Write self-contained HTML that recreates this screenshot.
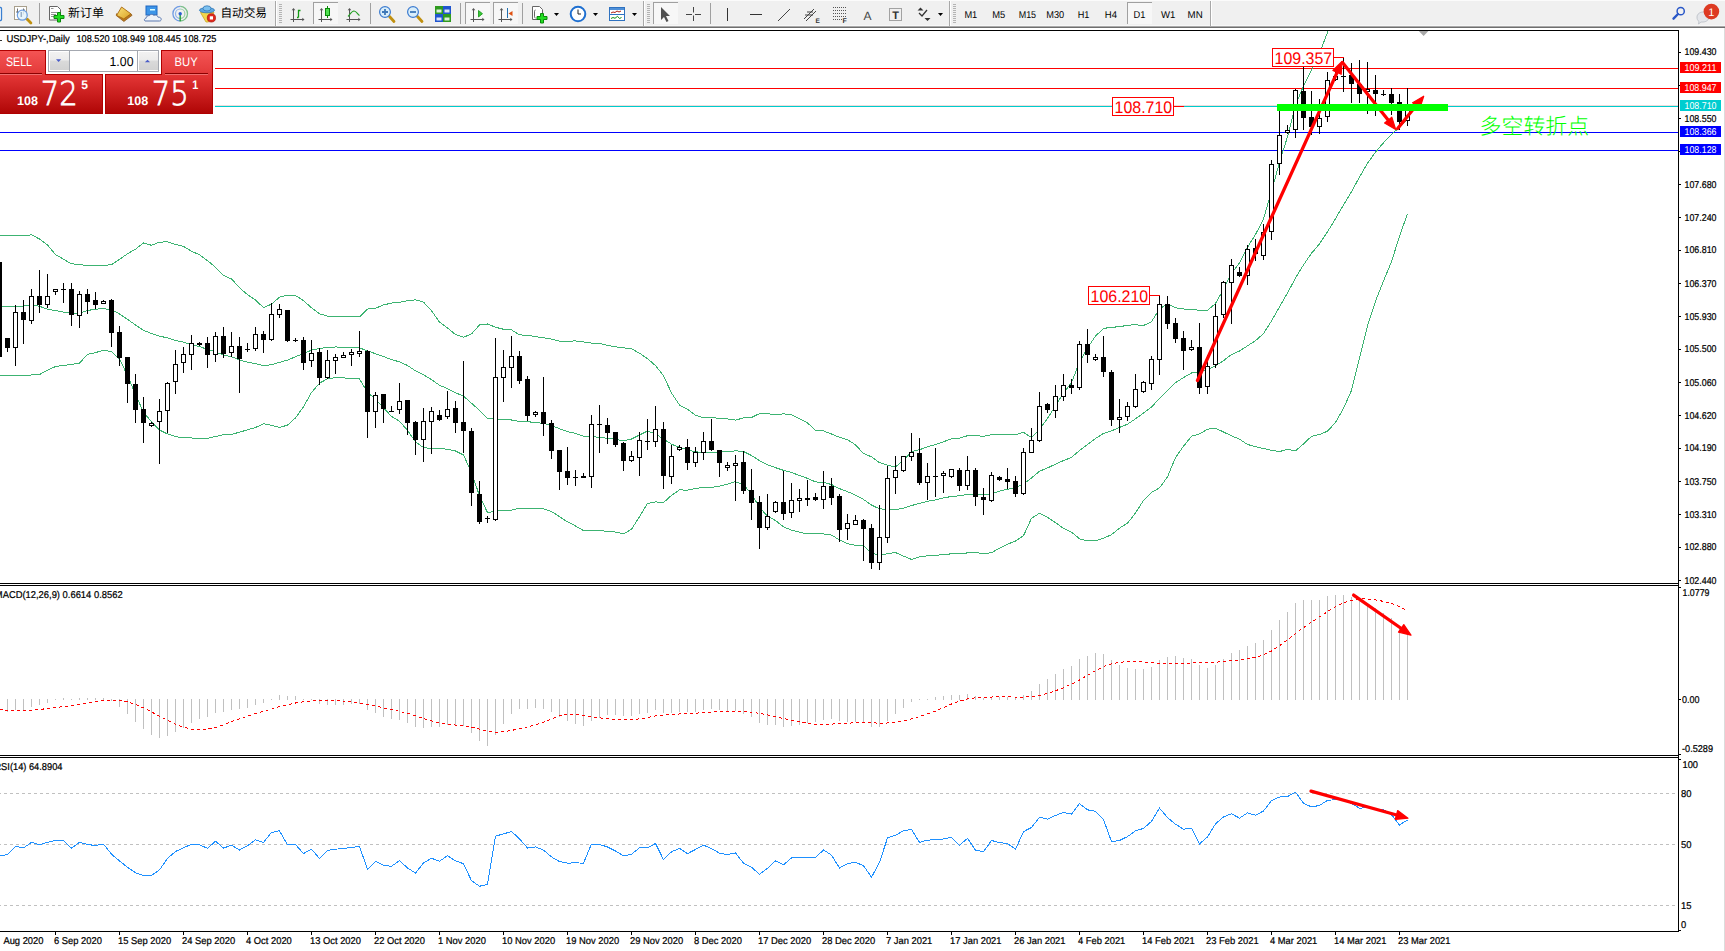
<!DOCTYPE html><html><head><meta charset="utf-8"><title>USDJPY Daily</title>
<style>html,body{margin:0;padding:0;background:#fff;overflow:hidden;}svg{display:block;} text{text-rendering:geometricPrecision;}</style></head><body>
<svg width="1725" height="951" viewBox="0 0 1725 951">
<defs>
<clipPath id="cm"><rect x="0" y="31" width="1678" height="552"/></clipPath>
<clipPath id="cd"><rect x="0" y="586" width="1678" height="169"/></clipPath>
<clipPath id="cr"><rect x="0" y="758" width="1678" height="173"/></clipPath>
<linearGradient id="gRed" x1="0" y1="0" x2="0" y2="1"><stop offset="0" stop-color="#e43636"/><stop offset="1" stop-color="#b00606"/></linearGradient>
<linearGradient id="gTab" x1="0" y1="0" x2="0" y2="1"><stop offset="0" stop-color="#f45454"/><stop offset="1" stop-color="#e23838"/></linearGradient>
<linearGradient id="gBtn" x1="0" y1="0" x2="0" y2="1"><stop offset="0" stop-color="#f2f2f2"/><stop offset="0.45" stop-color="#ebebeb"/><stop offset="0.5" stop-color="#dadada"/><stop offset="1" stop-color="#d2d2d2"/></linearGradient>
</defs>
<rect x="0" y="0" width="1725" height="951" fill="#ffffff"/>
<g id="toolbar">
<rect x="0" y="0" width="1725" height="26" fill="#f0f0f0"/>
<rect x="0" y="25" width="1725" height="1" fill="#f7f7f7"/>
<rect x="0" y="26" width="1725" height="1" fill="#a9a9a9"/>
<rect x="0" y="27" width="1725" height="1" fill="#6e6e6e"/>
<rect x="0" y="0" width="1725" height="1" fill="#fbfbfb"/>
<rect x="-6.5" y="7.5" width="8" height="13" rx="1" fill="#fff" stroke="#3a7fd0" stroke-width="1.3"/>
<rect x="14.5" y="6.5" width="12" height="13" fill="#fff" stroke="#a89f8c" stroke-width="1"/>
<path d="M17.5 8.5v8M17.5 12h-1.5M23.5 8.5v6M23.5 10h1.5" stroke="#707070" stroke-width="1" fill="none"/>
<path d="M27.3 19.3l3.6 3.6" stroke="#c09010" stroke-width="2.8" stroke-linecap="round"/>
<circle cx="22.3" cy="15.2" r="5" fill="#e4f3fb" fill-opacity="0.85" stroke="#6f9fe0" stroke-width="1.2"/>
<path d="M21.3 12v5" stroke="#9ab0c8" stroke-width="1.5"/>
<rect x="39" y="3" width="1" height="21" fill="#a0a0a0"/>
<path d="M49.5 6.5h8l3 3v10.5h-11z" fill="#fff" stroke="#666" stroke-width="1"/>
<path d="M51 8.5h2.5M51 12.5h6M51 14.5h5M51 16.5h4" stroke="#888" stroke-width="0.9"/>
<path d="M57.5 12.5h3v3h3.5v3h-3.5v3.5h-3v-3.5h-3.5v-3h3.5z" fill="#22dd22" stroke="#0a8a0a" stroke-width="1"/>
<text x="68" y="17.3" font-family="Liberation Sans, Noto Sans CJK SC, sans-serif" font-size="12" fill="#000" textLength="36" lengthAdjust="spacingAndGlyphs">新订单</text>
<defs><linearGradient id="gGold" x1="0" y1="0" x2="1" y2="1"><stop offset="0" stop-color="#fbe27a"/><stop offset="1" stop-color="#d9a224"/></linearGradient></defs>
<path d="M116.3 15.6l7.6 5.9 8.2-6.2-1.2-1.6-7 5-7.4-5z" fill="#b8781e" stroke="#8a5210" stroke-width="0.7"/>
<path d="M116.6 15.4l5-8.4 9.3 6.8-7.1 5.1z" fill="url(#gGold)" stroke="#a8680f" stroke-width="0.9"/>
<rect x="146" y="6" width="11" height="9" fill="#3d95e8" stroke="#1f66c0" stroke-width="1"/>
<rect x="150" y="9" width="5" height="1.5" fill="#dff"/>
<path d="M145 21h14.5c1.5 0 2-1.2 1.5-2.5-.5-1.2-2-1.5-2.8-1.2-.6-1.8-2.5-2.8-4.4-2-1.2-1.3-3.5-1.2-4.5.3-1.7-.2-3.3 1-3.2 2.6-1.3.2-2 1.2-1.6 2.1z" fill="#eef2f8" stroke="#5a78b0" stroke-width="1"/>
<path d="M180.2 6.4a7.3 7.3 0 0 1 0 14.6" fill="none" stroke="#7cc08a" stroke-width="1.3"/>
<path d="M180.2 6.4a7.3 7.3 0 0 0 0 14.6" fill="none" stroke="#6f9be3" stroke-width="1.3"/>
<path d="M180.2 9a4.7 4.7 0 0 1 0 9.4" fill="none" stroke="#9bd0a6" stroke-width="1.2"/>
<path d="M180.2 9a4.7 4.7 0 0 0 0 9.4" fill="none" stroke="#8fb4ea" stroke-width="1.2"/>
<path d="M180.2 13.7v7.6" stroke="#23a030" stroke-width="1.4"/>
<circle cx="180.2" cy="13.7" r="1.7" fill="#2a5fd0"/>
<path d="M200.5 12.5l13.5 0-5.5 9.5h-2.5z" fill="#f2d64a" stroke="#c8a424" stroke-width="0.8"/>
<ellipse cx="207" cy="10.2" rx="7.5" ry="2.6" fill="#5fa8e0" stroke="#3478b8" stroke-width="0.8"/>
<ellipse cx="207" cy="8.4" rx="4" ry="2.6" fill="#7cc0ee" stroke="#3478b8" stroke-width="0.8"/>
<circle cx="211.4" cy="17.9" r="4.1" fill="#e0281c" stroke="#b01a10" stroke-width="0.8"/>
<rect x="209.8" y="16.3" width="3.2" height="3.2" fill="#fff"/>
<text x="220.5" y="17.3" font-family="Liberation Sans, Noto Sans CJK SC, sans-serif" font-size="12" fill="#000" textLength="46.5" lengthAdjust="spacingAndGlyphs">自动交易</text>
<rect x="275" y="1" width="1" height="25" fill="#a8a8a8"/>
<rect x="276" y="1" width="1" height="25" fill="#ffffff"/>
<rect x="279" y="4" width="3" height="1" fill="#b4b4b4"/>
<rect x="279" y="6" width="3" height="1" fill="#b4b4b4"/>
<rect x="279" y="8" width="3" height="1" fill="#b4b4b4"/>
<rect x="279" y="10" width="3" height="1" fill="#b4b4b4"/>
<rect x="279" y="12" width="3" height="1" fill="#b4b4b4"/>
<rect x="279" y="14" width="3" height="1" fill="#b4b4b4"/>
<rect x="279" y="16" width="3" height="1" fill="#b4b4b4"/>
<rect x="279" y="18" width="3" height="1" fill="#b4b4b4"/>
<rect x="279" y="20" width="3" height="1" fill="#b4b4b4"/>
<rect x="279" y="22" width="3" height="1" fill="#b4b4b4"/>
<path d="M293.5 9.5V22.0M290.5 19.5H303.0" stroke="#555" stroke-width="1" fill="none"/>
<path d="M293.5 8.0l-1.8 2.2h3.6z" fill="#555"/>
<path d="M304.5 19.5l-2.2 -1.8v3.6z" fill="#555"/>
<path d="M298.5 17.5h-1.5M298.5 17.5V10.5h2" stroke="#129a12" stroke-width="1.3" fill="none"/>
<rect x="313" y="2" width="25" height="22" fill="#f7f7f7"/>
<rect x="313" y="2" width="25" height="1" fill="#a0a0a0"/>
<rect x="313" y="2" width="1" height="22" fill="#a0a0a0"/>
<path d="M321.5 9.5V22.0M318.5 19.5H331.0" stroke="#555" stroke-width="1" fill="none"/>
<path d="M321.5 8.0l-1.8 2.2h3.6z" fill="#555"/>
<path d="M332.5 19.5l-2.2 -1.8v3.6z" fill="#555"/>
<path d="M327.5 6v12" stroke="#0a8a0a" stroke-width="1"/>
<rect x="325.5" y="8.5" width="4" height="7" fill="#4fe04f" stroke="#0a8a0a" stroke-width="1"/>
<path d="M349.5 9.5V22.0M346.5 19.5H359.0" stroke="#555" stroke-width="1" fill="none"/>
<path d="M349.5 8.0l-1.8 2.2h3.6z" fill="#555"/>
<path d="M360.5 19.5l-2.2 -1.8v3.6z" fill="#555"/>
<path d="M348 16.5c2-2 3.5-5.5 6-5.5s3.5 3.5 5.5 4.5" stroke="#23a023" stroke-width="1.1" fill="none"/>
<rect x="370" y="3" width="1" height="21" fill="#a0a0a0"/>
<path d="M389.5 16.5l4.5 5" stroke="#c09010" stroke-width="2.8" stroke-linecap="round"/>
<circle cx="385.0" cy="12" r="5.4" fill="#d9eefa" stroke="#3b7bd0" stroke-width="1.2"/>
<path d="M382.0 12h6M385.0 9v6" stroke="#3e78b8" stroke-width="1.8"/>
<path d="M417.5 16.5l4.5 5" stroke="#c09010" stroke-width="2.8" stroke-linecap="round"/>
<circle cx="413.0" cy="12" r="5.4" fill="#d9eefa" stroke="#3b7bd0" stroke-width="1.2"/>
<path d="M410.0 12h6" stroke="#3e78b8" stroke-width="1.8"/>
<rect x="435" y="6" width="8" height="8" fill="#2f9a1f"/>
<rect x="436.5" y="9.5" width="5" height="3" fill="#ffffff" opacity="0.85"/>
<rect x="443" y="6" width="8" height="8" fill="#1f55cf"/>
<rect x="444.5" y="9.5" width="5" height="3" fill="#ffffff" opacity="0.85"/>
<rect x="435" y="14" width="8" height="8" fill="#1f55cf"/>
<rect x="436.5" y="17.5" width="5" height="3" fill="#ffffff" opacity="0.85"/>
<rect x="443" y="14" width="8" height="8" fill="#2f9a1f"/>
<rect x="444.5" y="17.5" width="5" height="3" fill="#ffffff" opacity="0.85"/>
<rect x="460" y="3" width="1" height="21" fill="#a0a0a0"/>
<rect x="465" y="2" width="25" height="22" fill="#f7f7f7"/>
<rect x="465" y="2" width="25" height="1" fill="#a0a0a0"/>
<rect x="465" y="2" width="1" height="22" fill="#a0a0a0"/>
<path d="M473.5 9.5V22.0M470.5 19.5H483.0" stroke="#555" stroke-width="1" fill="none"/>
<path d="M473.5 8.0l-1.8 2.2h3.6z" fill="#555"/>
<path d="M484.5 19.5l-2.2 -1.8v3.6z" fill="#555"/>
<path d="M478.5 10.5v6.5l4-3.3z" fill="#37c837" stroke="#109010" stroke-width="0.8"/>
<rect x="493" y="2" width="25" height="22" fill="#f7f7f7"/>
<rect x="493" y="2" width="25" height="1" fill="#a0a0a0"/>
<rect x="493" y="2" width="1" height="22" fill="#a0a0a0"/>
<path d="M501.5 9.5V22.0M498.5 19.5H511.0" stroke="#555" stroke-width="1" fill="none"/>
<path d="M501.5 8.0l-1.8 2.2h3.6z" fill="#555"/>
<path d="M512.5 19.5l-2.2 -1.8v3.6z" fill="#555"/>
<rect x="507" y="8" width="1" height="10" fill="#1f6fb0"/>
<path d="M508.5 13.5l4-2.5v5z" fill="#e05010"/>
<rect x="522" y="3" width="1" height="21" fill="#a0a0a0"/>
<path d="M532.5 6.5h7l3 3v10h-10z" fill="#fff" stroke="#666" stroke-width="1"/>
<path d="M535.5 10c-1 0-1 1-1 2v4c0 1 0 2 1 2" stroke="#555" fill="none" stroke-width="0.9"/>
<path d="M540.5 13.5h3v3h3.5v3h-3.5v3.5h-3v-3.5h-3.5v-3h3.5z" fill="#22dd22" stroke="#0a8a0a" stroke-width="1"/>
<path d="M554.0 13h5l-2.5 3z" fill="#000"/>
<circle cx="578" cy="14" r="7.3" fill="#fff" stroke="#1e6fd0" stroke-width="2"/>
<path d="M578 9.5V14h3" stroke="#222" stroke-width="1" fill="none"/>
<path d="M593.0 13h5l-2.5 3z" fill="#000"/>
<rect x="609.5" y="7.5" width="15" height="13" fill="#fff" stroke="#2f72c0" stroke-width="1"/>
<rect x="610" y="8" width="14" height="2" fill="#4f90d8"/>
<rect x="610" y="14" width="14" height="1" fill="#2f72c0"/>
<path d="M611 13l2-1 2 .5 2-1.5 2 1 2-1" stroke="#b02010" stroke-width="1" fill="none"/>
<path d="M611 18.5l2-1 2 .8 2.5-2 2 2.2 2-1" stroke="#109010" stroke-width="1" fill="none"/>
<path d="M632.0 13h5l-2.5 3z" fill="#000"/>
<rect x="643" y="1" width="1" height="25" fill="#a8a8a8"/>
<rect x="644" y="1" width="1" height="25" fill="#ffffff"/>
<rect x="647" y="4" width="3" height="1" fill="#b4b4b4"/>
<rect x="647" y="6" width="3" height="1" fill="#b4b4b4"/>
<rect x="647" y="8" width="3" height="1" fill="#b4b4b4"/>
<rect x="647" y="10" width="3" height="1" fill="#b4b4b4"/>
<rect x="647" y="12" width="3" height="1" fill="#b4b4b4"/>
<rect x="647" y="14" width="3" height="1" fill="#b4b4b4"/>
<rect x="647" y="16" width="3" height="1" fill="#b4b4b4"/>
<rect x="647" y="18" width="3" height="1" fill="#b4b4b4"/>
<rect x="647" y="20" width="3" height="1" fill="#b4b4b4"/>
<rect x="647" y="22" width="3" height="1" fill="#b4b4b4"/>
<rect x="653" y="2" width="25" height="22" fill="#f7f7f7"/>
<rect x="653" y="2" width="25" height="1" fill="#a0a0a0"/>
<rect x="653" y="2" width="1" height="22" fill="#a0a0a0"/>
<path d="M661 7v13l3-3 2.5 5 2-1-2.5-5h4z" fill="#505050"/>
<path d="M686 14.5h6M695 14.5h6M693.5 7v5.5M693.5 15.5V21" stroke="#444" stroke-width="1"/>
<rect x="710" y="3" width="1" height="21" fill="#a0a0a0"/>
<rect x="727" y="8" width="1" height="13" fill="#333"/>
<rect x="750" y="14" width="12" height="1" fill="#333"/>
<path d="M778 21l12-12" stroke="#444" stroke-width="1"/>
<path d="M804 19l10-10M806 21l10-10M805 15h8M807 12h6" stroke="#444" stroke-width="1" fill="none"/>
<text x="815.5" y="23.0" font-family="Liberation Sans, sans-serif" font-size="6.5" fill="#333" text-anchor="start" font-weight="bold">E</text>
<path d="M833 7.5h13" stroke="#555" stroke-width="1" stroke-dasharray="1,1"/>
<path d="M833 10.5h13" stroke="#555" stroke-width="1" stroke-dasharray="1,1"/>
<path d="M833 13.5h13" stroke="#555" stroke-width="1" stroke-dasharray="1,1"/>
<path d="M833 16.5h13" stroke="#555" stroke-width="1" stroke-dasharray="1,1"/>
<path d="M833 19.5h9" stroke="#555" stroke-width="1" stroke-dasharray="1,1"/>
<text x="842.5" y="23.0" font-family="Liberation Sans, sans-serif" font-size="7.0" fill="#333" text-anchor="start" font-weight="bold">F</text>
<text x="867.5" y="19.5" font-family="Liberation Sans, sans-serif" font-size="12.0" fill="#444" text-anchor="middle">A</text>
<rect x="889.5" y="8.5" width="12" height="12" fill="none" stroke="#555" stroke-width="1" stroke-dasharray="1,1"/>
<text x="895.5" y="18.5" font-family="Liberation Sans, sans-serif" font-size="11.0" fill="#333" text-anchor="middle" font-weight="bold">T</text>
<path d="M920.5 7.5l3 3h-6z M927.5 21l3-3h-6z" fill="#333"/>
<path d="M919 13l3 3 5-6" stroke="#333" stroke-width="1.3" fill="none"/>
<path d="M938.0 13h5l-2.5 3z" fill="#000"/>
<rect x="949" y="1" width="1" height="25" fill="#a8a8a8"/>
<rect x="950" y="1" width="1" height="25" fill="#ffffff"/>
<rect x="953" y="4" width="3" height="1" fill="#b4b4b4"/>
<rect x="953" y="6" width="3" height="1" fill="#b4b4b4"/>
<rect x="953" y="8" width="3" height="1" fill="#b4b4b4"/>
<rect x="953" y="10" width="3" height="1" fill="#b4b4b4"/>
<rect x="953" y="12" width="3" height="1" fill="#b4b4b4"/>
<rect x="953" y="14" width="3" height="1" fill="#b4b4b4"/>
<rect x="953" y="16" width="3" height="1" fill="#b4b4b4"/>
<rect x="953" y="18" width="3" height="1" fill="#b4b4b4"/>
<rect x="953" y="20" width="3" height="1" fill="#b4b4b4"/>
<rect x="953" y="22" width="3" height="1" fill="#b4b4b4"/>
<rect x="1127" y="2" width="25" height="22" fill="#f7f7f7"/>
<rect x="1127" y="2" width="25" height="1" fill="#a0a0a0"/>
<rect x="1127" y="2" width="1" height="22" fill="#a0a0a0"/>
<text x="964.4" y="18.0" font-family="Liberation Sans, sans-serif" font-size="10.0" fill="#000" text-anchor="start" textLength="12.9" lengthAdjust="spacingAndGlyphs">M1</text>
<text x="992.3" y="18.0" font-family="Liberation Sans, sans-serif" font-size="10.0" fill="#000" text-anchor="start" textLength="13.0" lengthAdjust="spacingAndGlyphs">M5</text>
<text x="1018.7" y="18.0" font-family="Liberation Sans, sans-serif" font-size="10.0" fill="#000" text-anchor="start" textLength="17.4" lengthAdjust="spacingAndGlyphs">M15</text>
<text x="1046.3" y="18.0" font-family="Liberation Sans, sans-serif" font-size="10.0" fill="#000" text-anchor="start" textLength="17.9" lengthAdjust="spacingAndGlyphs">M30</text>
<text x="1077.7" y="18.0" font-family="Liberation Sans, sans-serif" font-size="10.0" fill="#000" text-anchor="start" textLength="11.7" lengthAdjust="spacingAndGlyphs">H1</text>
<text x="1104.8" y="18.0" font-family="Liberation Sans, sans-serif" font-size="10.0" fill="#000" text-anchor="start" textLength="12.2" lengthAdjust="spacingAndGlyphs">H4</text>
<text x="1133.5" y="18.0" font-family="Liberation Sans, sans-serif" font-size="10.0" fill="#000" text-anchor="start" textLength="11.9" lengthAdjust="spacingAndGlyphs">D1</text>
<text x="1161.0" y="18.0" font-family="Liberation Sans, sans-serif" font-size="10.0" fill="#000" text-anchor="start" textLength="14.4" lengthAdjust="spacingAndGlyphs">W1</text>
<text x="1187.6" y="18.0" font-family="Liberation Sans, sans-serif" font-size="10.0" fill="#000" text-anchor="start" textLength="15.1" lengthAdjust="spacingAndGlyphs">MN</text>
<rect x="1210" y="1" width="1" height="25" fill="#a8a8a8"/>
<rect x="1211" y="1" width="1" height="25" fill="#ffffff"/>
<circle cx="1680.7" cy="11.2" r="3.6" fill="none" stroke="#2a58c8" stroke-width="1.5"/>
<path d="M1678 14l-4.5 4.7" stroke="#2a58c8" stroke-width="2.4" stroke-linecap="round"/>
<path d="M1697 17c0-3 3-5 6-5s6 2 6 5-3 5-6 5h-2l-2.5 2 .5-2.5c-1.5-1-2-2.5-2-4.5z" fill="#e4e6ea" stroke="#b8bcc4" stroke-width="0.8"/>
<circle cx="1711.4" cy="11.6" r="7.8" fill="#dd3a22"/>
<text x="1711.4" y="15.6" font-family="Liberation Sans, sans-serif" font-size="11.0" fill="#fff" text-anchor="middle">1</text>
</g>
<rect x="1724" y="28" width="1" height="923" fill="#dcdcdc"/>
<g clip-path="url(#cm)">
<rect x="0" y="68" width="1678" height="1" fill="#ff0000"/>
<rect x="0" y="88" width="1678" height="1" fill="#ff0000"/>
<rect x="0" y="105" width="1678" height="1" fill="#ecdcdc"/>
<rect x="0" y="106" width="1678" height="1" fill="#00cccc"/>
<rect x="0" y="132" width="1678" height="1" fill="#0000ff"/>
<rect x="0" y="150" width="1678" height="1" fill="#0000ff"/>
<polyline points="-0.5,235.90 7.5,235.90 15.5,235.90 23.5,235.90 31.5,234.80 39.5,239.00 47.5,244.90 55.5,254.50 63.5,259.20 71.5,263.90 79.5,264.20 87.5,265.90 95.5,265.90 103.5,265.50 111.5,264.70 119.5,259.30 127.5,253.80 135.5,249.20 143.5,242.90 151.5,245.31 159.5,242.18 167.5,241.79 175.5,244.46 183.5,246.44 191.5,251.13 199.5,254.86 207.5,260.67 215.5,267.20 223.5,275.43 231.5,278.97 239.5,287.65 247.5,294.69 255.5,299.98 263.5,307.63 271.5,304.10 279.5,297.14 287.5,295.22 295.5,295.51 303.5,300.56 311.5,307.78 319.5,313.82 327.5,316.02 335.5,316.30 343.5,316.29 351.5,316.69 359.5,316.97 367.5,309.07 375.5,308.25 383.5,304.96 391.5,303.07 399.5,302.36 407.5,300.64 415.5,299.85 423.5,302.06 431.5,310.73 439.5,322.04 447.5,327.95 455.5,334.52 463.5,337.29 471.5,333.95 479.5,324.94 487.5,323.99 495.5,327.22 503.5,329.28 511.5,329.82 519.5,334.92 527.5,335.21 535.5,336.75 543.5,337.74 551.5,339.03 559.5,341.04 567.5,341.24 575.5,340.92 583.5,341.94 591.5,343.04 599.5,343.41 607.5,345.46 615.5,346.76 623.5,347.85 631.5,348.83 639.5,353.18 647.5,358.70 655.5,365.56 663.5,375.72 671.5,392.91 679.5,405.04 687.5,409.36 695.5,415.16 703.5,417.86 711.5,417.80 719.5,418.15 727.5,418.97 735.5,420.04 743.5,417.97 751.5,417.47 759.5,413.59 767.5,413.64 775.5,414.82 783.5,413.83 791.5,414.89 799.5,418.63 807.5,422.92 815.5,430.40 823.5,430.95 831.5,434.01 839.5,437.33 847.5,439.65 855.5,444.81 863.5,453.48 871.5,456.86 879.5,462.65 887.5,465.16 895.5,467.07 903.5,460.03 911.5,451.76 919.5,449.71 927.5,446.89 935.5,444.47 943.5,441.74 951.5,438.91 959.5,438.11 967.5,435.68 975.5,435.56 983.5,436.29 991.5,434.60 999.5,434.35 1007.5,434.12 1015.5,434.66 1023.5,432.35 1031.5,437.49 1039.5,429.36 1047.5,418.37 1055.5,405.79 1063.5,392.91 1071.5,382.70 1079.5,362.13 1087.5,347.81 1095.5,336.11 1103.5,328.48 1111.5,327.21 1119.5,326.80 1127.5,325.23 1135.5,324.73 1143.5,325.53 1151.5,321.82 1159.5,308.76 1167.5,304.02 1175.5,307.85 1183.5,308.97 1191.5,309.66 1199.5,310.20 1207.5,310.48 1215.5,303.45 1223.5,289.32 1231.5,273.19 1239.5,263.00 1247.5,247.17 1255.5,234.58 1263.5,218.86 1271.5,191.56 1279.5,162.10 1287.5,136.87 1295.5,105.40 1303.5,85.78 1311.5,70.18 1319.5,53.40 1327.5,32.39 1335.5,14.74 1343.5,1.53 1351.5,-7.02 1359.5,-4.16 1367.5,0.73 1375.5,3.25 1383.5,4.56 1391.5,7.55 1399.5,17.74 1407.5,25.83" fill="none" stroke="#3cb371" stroke-width="1" shape-rendering="crispEdges"/>
<polyline points="-0.5,306.00 7.5,306.00 15.5,306.00 23.5,306.00 31.5,304.60 39.5,306.30 47.5,309.20 55.5,310.50 63.5,312.20 71.5,313.00 79.5,313.40 87.5,310.50 95.5,309.20 103.5,308.50 111.5,309.90 119.5,313.90 127.5,319.40 135.5,324.90 143.5,330.40 151.5,333.46 159.5,336.13 167.5,337.88 175.5,340.48 183.5,342.18 191.5,344.55 199.5,346.55 207.5,349.48 215.5,351.85 223.5,355.10 231.5,356.67 239.5,359.92 247.5,362.25 255.5,363.72 263.5,365.69 271.5,364.75 279.5,362.32 287.5,360.17 295.5,356.68 303.5,353.65 311.5,350.13 319.5,348.50 327.5,347.36 335.5,347.00 343.5,347.08 351.5,347.58 359.5,347.91 367.5,350.76 375.5,353.73 383.5,356.46 391.5,359.71 399.5,361.78 407.5,365.50 415.5,370.78 423.5,374.83 431.5,379.68 439.5,385.21 447.5,388.59 455.5,392.74 463.5,396.17 471.5,403.19 479.5,410.37 487.5,418.27 495.5,419.28 503.5,419.86 511.5,420.00 519.5,421.49 527.5,421.70 535.5,422.54 543.5,423.31 551.5,425.28 559.5,428.84 567.5,431.56 575.5,433.44 583.5,436.27 591.5,436.89 599.5,437.11 607.5,438.31 615.5,439.39 623.5,440.88 631.5,439.04 639.5,434.98 647.5,431.10 655.5,433.71 663.5,439.14 671.5,444.14 679.5,447.44 687.5,449.77 695.5,451.79 703.5,452.64 711.5,452.59 719.5,452.15 727.5,451.59 735.5,450.84 743.5,451.50 751.5,455.46 759.5,460.61 767.5,464.79 775.5,467.66 783.5,470.31 791.5,472.52 799.5,475.43 807.5,478.39 815.5,481.91 823.5,482.44 831.5,484.52 839.5,488.66 847.5,491.66 855.5,495.06 863.5,499.44 871.5,505.09 879.5,508.83 887.5,509.43 895.5,509.81 903.5,508.09 911.5,505.56 919.5,503.31 927.5,501.31 935.5,499.99 943.5,497.97 951.5,496.43 959.5,495.79 967.5,494.31 975.5,494.14 983.5,494.84 991.5,493.72 999.5,491.22 1007.5,489.19 1015.5,487.84 1023.5,484.02 1031.5,477.89 1039.5,471.32 1047.5,467.89 1055.5,464.18 1063.5,460.61 1071.5,457.39 1079.5,450.46 1087.5,444.39 1095.5,438.49 1103.5,433.40 1111.5,430.91 1119.5,427.46 1127.5,424.24 1135.5,418.88 1143.5,412.96 1151.5,407.17 1159.5,398.34 1167.5,390.43 1175.5,382.69 1183.5,377.61 1191.5,372.96 1199.5,372.04 1207.5,369.83 1215.5,365.81 1223.5,360.66 1231.5,354.50 1239.5,351.11 1247.5,345.80 1255.5,340.64 1263.5,333.67 1271.5,320.91 1279.5,306.84 1287.5,293.06 1295.5,278.10 1303.5,264.88 1311.5,253.24 1319.5,243.94 1327.5,231.78 1335.5,218.64 1343.5,204.90 1351.5,191.72 1359.5,177.02 1367.5,163.26 1375.5,152.19 1383.5,142.77 1391.5,134.67 1399.5,126.95 1407.5,119.79" fill="none" stroke="#3cb371" stroke-width="1" shape-rendering="crispEdges"/>
<polyline points="-0.5,375.70 7.5,375.70 15.5,375.70 23.5,375.30 31.5,375.00 39.5,374.50 47.5,370.30 55.5,366.50 63.5,365.50 71.5,364.40 79.5,363.20 87.5,354.30 95.5,352.60 103.5,350.30 111.5,351.50 119.5,359.10 127.5,375.50 135.5,394.50 143.5,412.40 151.5,421.60 159.5,430.08 167.5,433.97 175.5,436.50 183.5,437.92 191.5,437.97 199.5,438.24 207.5,438.28 215.5,436.50 223.5,434.77 231.5,434.37 239.5,432.19 247.5,429.82 255.5,427.46 263.5,423.75 271.5,425.41 279.5,427.51 287.5,425.13 295.5,417.84 303.5,406.74 311.5,392.48 319.5,383.19 327.5,378.69 335.5,377.71 343.5,377.88 351.5,378.48 359.5,378.84 367.5,392.45 375.5,399.20 383.5,407.95 391.5,416.35 399.5,421.21 407.5,430.36 415.5,441.72 423.5,447.61 431.5,448.63 439.5,448.38 447.5,449.23 455.5,450.96 463.5,455.04 471.5,472.42 479.5,495.80 487.5,512.55 495.5,511.34 503.5,510.45 511.5,510.19 519.5,508.05 527.5,508.20 535.5,508.33 543.5,508.88 551.5,511.54 559.5,516.63 567.5,521.89 575.5,525.96 583.5,530.60 591.5,530.73 599.5,530.82 607.5,531.16 615.5,532.03 623.5,533.91 631.5,529.26 639.5,516.77 647.5,503.50 655.5,501.86 663.5,502.55 671.5,495.36 679.5,489.85 687.5,490.19 695.5,488.41 703.5,487.43 711.5,487.39 719.5,486.15 727.5,484.21 735.5,481.65 743.5,485.03 751.5,493.44 759.5,507.63 767.5,515.95 775.5,520.50 783.5,526.80 791.5,530.14 799.5,532.22 807.5,533.85 815.5,533.43 823.5,533.94 831.5,535.03 839.5,539.99 847.5,543.66 855.5,545.32 863.5,545.41 871.5,553.33 879.5,555.01 887.5,553.69 895.5,552.56 903.5,556.15 911.5,559.37 919.5,556.91 927.5,555.74 935.5,555.51 943.5,554.20 951.5,553.94 959.5,553.46 967.5,552.95 975.5,552.73 983.5,553.40 991.5,552.84 999.5,548.09 1007.5,544.25 1015.5,541.03 1023.5,535.70 1031.5,518.28 1039.5,513.28 1047.5,517.40 1055.5,522.56 1063.5,528.32 1071.5,532.09 1079.5,538.80 1087.5,540.97 1095.5,540.87 1103.5,538.32 1111.5,534.61 1119.5,528.11 1127.5,523.25 1135.5,513.02 1143.5,500.38 1151.5,492.51 1159.5,487.92 1167.5,476.84 1175.5,457.53 1183.5,446.24 1191.5,436.25 1199.5,433.87 1207.5,429.18 1215.5,428.16 1223.5,432.00 1231.5,435.82 1239.5,439.21 1247.5,444.42 1255.5,446.69 1263.5,448.48 1271.5,450.26 1279.5,451.58 1287.5,449.25 1295.5,450.80 1303.5,443.97 1311.5,436.31 1319.5,434.49 1327.5,431.17 1335.5,422.54 1343.5,408.26 1351.5,390.46 1359.5,358.20 1367.5,325.78 1375.5,301.13 1383.5,280.97 1391.5,261.78 1399.5,236.17 1407.5,213.75" fill="none" stroke="#3cb371" stroke-width="1" shape-rendering="crispEdges"/>
<g shape-rendering="crispEdges">
<rect x="-3" y="262" width="5" height="95" fill="#000"/>
<rect x="7" y="348" width="1" height="4" fill="#000"/>
<rect x="5" y="338" width="5" height="10" fill="#000"/>
<rect x="15" y="305" width="1" height="7" fill="#000"/>
<rect x="15" y="348" width="1" height="18" fill="#000"/>
<rect x="13" y="312" width="5" height="36" fill="#000"/>
<rect x="14" y="313" width="3" height="34" fill="#fff"/>
<rect x="23" y="300" width="1" height="12" fill="#000"/>
<rect x="23" y="320" width="1" height="24" fill="#000"/>
<rect x="21" y="312" width="5" height="8" fill="#000"/>
<rect x="31" y="289" width="1" height="7" fill="#000"/>
<rect x="31" y="321" width="1" height="3" fill="#000"/>
<rect x="29" y="296" width="5" height="25" fill="#000"/>
<rect x="30" y="297" width="3" height="23" fill="#fff"/>
<rect x="39" y="270" width="1" height="26" fill="#000"/>
<rect x="39" y="305" width="1" height="8" fill="#000"/>
<rect x="37" y="296" width="5" height="9" fill="#000"/>
<rect x="47" y="274" width="1" height="22" fill="#000"/>
<rect x="47" y="305" width="1" height="3" fill="#000"/>
<rect x="45" y="296" width="5" height="9" fill="#000"/>
<rect x="46" y="297" width="3" height="7" fill="#fff"/>
<rect x="55" y="292" width="1" height="3" fill="#000"/>
<rect x="53" y="289" width="5" height="3" fill="#000"/>
<rect x="54" y="290" width="3" height="1" fill="#fff"/>
<rect x="63" y="283" width="1" height="6" fill="#000"/>
<rect x="63" y="290" width="1" height="13" fill="#000"/>
<rect x="61" y="289" width="5" height="1" fill="#000"/>
<rect x="71" y="283" width="1" height="6" fill="#000"/>
<rect x="71" y="315" width="1" height="11" fill="#000"/>
<rect x="69" y="289" width="5" height="26" fill="#000"/>
<rect x="79" y="291" width="1" height="3" fill="#000"/>
<rect x="79" y="316" width="1" height="12" fill="#000"/>
<rect x="77" y="294" width="5" height="22" fill="#000"/>
<rect x="78" y="295" width="3" height="20" fill="#fff"/>
<rect x="87" y="289" width="1" height="5" fill="#000"/>
<rect x="87" y="302" width="1" height="12" fill="#000"/>
<rect x="85" y="294" width="5" height="8" fill="#000"/>
<rect x="95" y="292" width="1" height="8" fill="#000"/>
<rect x="95" y="305" width="1" height="4" fill="#000"/>
<rect x="93" y="300" width="5" height="5" fill="#000"/>
<rect x="103" y="300" width="1" height="1" fill="#000"/>
<rect x="101" y="301" width="5" height="3" fill="#000"/>
<rect x="102" y="302" width="3" height="1" fill="#fff"/>
<rect x="111" y="299" width="1" height="1" fill="#000"/>
<rect x="111" y="333" width="1" height="14" fill="#000"/>
<rect x="109" y="300" width="5" height="33" fill="#000"/>
<rect x="119" y="326" width="1" height="6" fill="#000"/>
<rect x="119" y="358" width="1" height="8" fill="#000"/>
<rect x="117" y="332" width="5" height="26" fill="#000"/>
<rect x="127" y="384" width="1" height="19" fill="#000"/>
<rect x="125" y="357" width="5" height="27" fill="#000"/>
<rect x="135" y="374" width="1" height="10" fill="#000"/>
<rect x="135" y="410" width="1" height="13" fill="#000"/>
<rect x="133" y="384" width="5" height="26" fill="#000"/>
<rect x="143" y="397" width="1" height="12" fill="#000"/>
<rect x="143" y="423" width="1" height="20" fill="#000"/>
<rect x="141" y="409" width="5" height="14" fill="#000"/>
<rect x="151" y="422" width="1" height="1" fill="#000"/>
<rect x="151" y="426" width="1" height="1" fill="#000"/>
<rect x="149" y="423" width="5" height="3" fill="#000"/>
<rect x="150" y="424" width="3" height="1" fill="#fff"/>
<rect x="159" y="399" width="1" height="12" fill="#000"/>
<rect x="159" y="422" width="1" height="42" fill="#000"/>
<rect x="157" y="411" width="5" height="11" fill="#000"/>
<rect x="158" y="412" width="3" height="9" fill="#fff"/>
<rect x="167" y="382" width="1" height="1" fill="#000"/>
<rect x="167" y="411" width="1" height="22" fill="#000"/>
<rect x="165" y="383" width="5" height="28" fill="#000"/>
<rect x="166" y="384" width="3" height="26" fill="#fff"/>
<rect x="175" y="350" width="1" height="14" fill="#000"/>
<rect x="175" y="382" width="1" height="12" fill="#000"/>
<rect x="173" y="364" width="5" height="18" fill="#000"/>
<rect x="174" y="365" width="3" height="16" fill="#fff"/>
<rect x="183" y="347" width="1" height="7" fill="#000"/>
<rect x="183" y="363" width="1" height="10" fill="#000"/>
<rect x="181" y="354" width="5" height="9" fill="#000"/>
<rect x="182" y="355" width="3" height="7" fill="#fff"/>
<rect x="191" y="335" width="1" height="8" fill="#000"/>
<rect x="191" y="355" width="1" height="15" fill="#000"/>
<rect x="189" y="343" width="5" height="12" fill="#000"/>
<rect x="190" y="344" width="3" height="10" fill="#fff"/>
<rect x="199" y="342" width="1" height="1" fill="#000"/>
<rect x="199" y="345" width="1" height="1" fill="#000"/>
<rect x="197" y="343" width="5" height="2" fill="#000"/>
<rect x="207" y="337" width="1" height="6" fill="#000"/>
<rect x="207" y="355" width="1" height="13" fill="#000"/>
<rect x="205" y="343" width="5" height="12" fill="#000"/>
<rect x="215" y="332" width="1" height="4" fill="#000"/>
<rect x="215" y="355" width="1" height="7" fill="#000"/>
<rect x="213" y="336" width="5" height="19" fill="#000"/>
<rect x="214" y="337" width="3" height="17" fill="#fff"/>
<rect x="223" y="327" width="1" height="9" fill="#000"/>
<rect x="223" y="354" width="1" height="4" fill="#000"/>
<rect x="221" y="336" width="5" height="18" fill="#000"/>
<rect x="231" y="332" width="1" height="14" fill="#000"/>
<rect x="231" y="353" width="1" height="4" fill="#000"/>
<rect x="229" y="346" width="5" height="7" fill="#000"/>
<rect x="230" y="347" width="3" height="5" fill="#fff"/>
<rect x="239" y="337" width="1" height="9" fill="#000"/>
<rect x="239" y="359" width="1" height="34" fill="#000"/>
<rect x="237" y="346" width="5" height="13" fill="#000"/>
<rect x="247" y="343" width="1" height="6" fill="#000"/>
<rect x="247" y="350" width="1" height="2" fill="#000"/>
<rect x="245" y="349" width="5" height="1" fill="#000"/>
<rect x="255" y="327" width="1" height="7" fill="#000"/>
<rect x="255" y="349" width="1" height="2" fill="#000"/>
<rect x="253" y="334" width="5" height="15" fill="#000"/>
<rect x="254" y="335" width="3" height="13" fill="#fff"/>
<rect x="263" y="331" width="1" height="3" fill="#000"/>
<rect x="263" y="340" width="1" height="13" fill="#000"/>
<rect x="261" y="334" width="5" height="6" fill="#000"/>
<rect x="271" y="303" width="1" height="11" fill="#000"/>
<rect x="271" y="340" width="1" height="1" fill="#000"/>
<rect x="269" y="314" width="5" height="26" fill="#000"/>
<rect x="270" y="315" width="3" height="24" fill="#fff"/>
<rect x="279" y="304" width="1" height="5" fill="#000"/>
<rect x="279" y="315" width="1" height="3" fill="#000"/>
<rect x="277" y="309" width="5" height="6" fill="#000"/>
<rect x="278" y="310" width="3" height="4" fill="#fff"/>
<rect x="287" y="341" width="1" height="1" fill="#000"/>
<rect x="285" y="310" width="5" height="31" fill="#000"/>
<rect x="295" y="338" width="1" height="2" fill="#000"/>
<rect x="295" y="341" width="1" height="1" fill="#000"/>
<rect x="293" y="340" width="5" height="1" fill="#000"/>
<rect x="303" y="337" width="1" height="3" fill="#000"/>
<rect x="303" y="363" width="1" height="7" fill="#000"/>
<rect x="301" y="340" width="5" height="23" fill="#000"/>
<rect x="311" y="340" width="1" height="13" fill="#000"/>
<rect x="311" y="361" width="1" height="6" fill="#000"/>
<rect x="309" y="353" width="5" height="8" fill="#000"/>
<rect x="310" y="354" width="3" height="6" fill="#fff"/>
<rect x="319" y="348" width="1" height="4" fill="#000"/>
<rect x="319" y="378" width="1" height="7" fill="#000"/>
<rect x="317" y="352" width="5" height="26" fill="#000"/>
<rect x="327" y="350" width="1" height="10" fill="#000"/>
<rect x="327" y="378" width="1" height="1" fill="#000"/>
<rect x="325" y="360" width="5" height="18" fill="#000"/>
<rect x="326" y="361" width="3" height="16" fill="#fff"/>
<rect x="335" y="354" width="1" height="3" fill="#000"/>
<rect x="335" y="361" width="1" height="13" fill="#000"/>
<rect x="333" y="357" width="5" height="4" fill="#000"/>
<rect x="334" y="358" width="3" height="2" fill="#fff"/>
<rect x="343" y="352" width="1" height="3" fill="#000"/>
<rect x="341" y="355" width="5" height="3" fill="#000"/>
<rect x="342" y="356" width="3" height="1" fill="#fff"/>
<rect x="351" y="349" width="1" height="3" fill="#000"/>
<rect x="351" y="355" width="1" height="11" fill="#000"/>
<rect x="349" y="352" width="5" height="3" fill="#000"/>
<rect x="350" y="353" width="3" height="1" fill="#fff"/>
<rect x="359" y="331" width="1" height="20" fill="#000"/>
<rect x="359" y="354" width="1" height="3" fill="#000"/>
<rect x="357" y="351" width="5" height="3" fill="#000"/>
<rect x="358" y="352" width="3" height="1" fill="#fff"/>
<rect x="367" y="350" width="1" height="1" fill="#000"/>
<rect x="367" y="412" width="1" height="26" fill="#000"/>
<rect x="365" y="351" width="5" height="61" fill="#000"/>
<rect x="375" y="392" width="1" height="3" fill="#000"/>
<rect x="375" y="412" width="1" height="16" fill="#000"/>
<rect x="373" y="395" width="5" height="17" fill="#000"/>
<rect x="374" y="396" width="3" height="15" fill="#fff"/>
<rect x="383" y="409" width="1" height="14" fill="#000"/>
<rect x="381" y="394" width="5" height="15" fill="#000"/>
<rect x="391" y="406" width="1" height="5" fill="#000"/>
<rect x="389" y="411" width="5" height="1" fill="#000"/>
<rect x="399" y="383" width="1" height="18" fill="#000"/>
<rect x="399" y="410" width="1" height="4" fill="#000"/>
<rect x="397" y="401" width="5" height="9" fill="#000"/>
<rect x="398" y="402" width="3" height="7" fill="#fff"/>
<rect x="407" y="423" width="1" height="12" fill="#000"/>
<rect x="405" y="400" width="5" height="23" fill="#000"/>
<rect x="415" y="421" width="1" height="1" fill="#000"/>
<rect x="415" y="440" width="1" height="15" fill="#000"/>
<rect x="413" y="422" width="5" height="18" fill="#000"/>
<rect x="423" y="408" width="1" height="13" fill="#000"/>
<rect x="423" y="440" width="1" height="22" fill="#000"/>
<rect x="421" y="421" width="5" height="19" fill="#000"/>
<rect x="422" y="422" width="3" height="17" fill="#fff"/>
<rect x="431" y="407" width="1" height="4" fill="#000"/>
<rect x="431" y="422" width="1" height="32" fill="#000"/>
<rect x="429" y="411" width="5" height="11" fill="#000"/>
<rect x="430" y="412" width="3" height="9" fill="#fff"/>
<rect x="439" y="410" width="1" height="5" fill="#000"/>
<rect x="439" y="420" width="1" height="1" fill="#000"/>
<rect x="437" y="415" width="5" height="5" fill="#000"/>
<rect x="447" y="391" width="1" height="18" fill="#000"/>
<rect x="447" y="417" width="1" height="2" fill="#000"/>
<rect x="445" y="409" width="5" height="8" fill="#000"/>
<rect x="446" y="410" width="3" height="6" fill="#fff"/>
<rect x="455" y="401" width="1" height="7" fill="#000"/>
<rect x="455" y="423" width="1" height="10" fill="#000"/>
<rect x="453" y="408" width="5" height="15" fill="#000"/>
<rect x="463" y="361" width="1" height="61" fill="#000"/>
<rect x="463" y="431" width="1" height="22" fill="#000"/>
<rect x="461" y="422" width="5" height="9" fill="#000"/>
<rect x="471" y="428" width="1" height="3" fill="#000"/>
<rect x="471" y="493" width="1" height="13" fill="#000"/>
<rect x="469" y="431" width="5" height="62" fill="#000"/>
<rect x="479" y="481" width="1" height="13" fill="#000"/>
<rect x="479" y="522" width="1" height="2" fill="#000"/>
<rect x="477" y="494" width="5" height="28" fill="#000"/>
<rect x="487" y="516" width="1" height="2" fill="#000"/>
<rect x="487" y="519" width="1" height="4" fill="#000"/>
<rect x="485" y="518" width="5" height="1" fill="#000"/>
<rect x="495" y="338" width="1" height="39" fill="#000"/>
<rect x="495" y="520" width="1" height="1" fill="#000"/>
<rect x="493" y="377" width="5" height="143" fill="#000"/>
<rect x="494" y="378" width="3" height="141" fill="#fff"/>
<rect x="503" y="350" width="1" height="17" fill="#000"/>
<rect x="503" y="378" width="1" height="24" fill="#000"/>
<rect x="501" y="367" width="5" height="11" fill="#000"/>
<rect x="502" y="368" width="3" height="9" fill="#fff"/>
<rect x="511" y="336" width="1" height="20" fill="#000"/>
<rect x="511" y="368" width="1" height="20" fill="#000"/>
<rect x="509" y="356" width="5" height="12" fill="#000"/>
<rect x="510" y="357" width="3" height="10" fill="#fff"/>
<rect x="519" y="351" width="1" height="5" fill="#000"/>
<rect x="519" y="381" width="1" height="3" fill="#000"/>
<rect x="517" y="356" width="5" height="25" fill="#000"/>
<rect x="527" y="376" width="1" height="3" fill="#000"/>
<rect x="527" y="416" width="1" height="5" fill="#000"/>
<rect x="525" y="379" width="5" height="37" fill="#000"/>
<rect x="535" y="411" width="1" height="1" fill="#000"/>
<rect x="535" y="415" width="1" height="2" fill="#000"/>
<rect x="533" y="412" width="5" height="3" fill="#000"/>
<rect x="534" y="413" width="3" height="1" fill="#fff"/>
<rect x="543" y="377" width="1" height="35" fill="#000"/>
<rect x="543" y="424" width="1" height="12" fill="#000"/>
<rect x="541" y="412" width="5" height="12" fill="#000"/>
<rect x="551" y="420" width="1" height="3" fill="#000"/>
<rect x="551" y="451" width="1" height="8" fill="#000"/>
<rect x="549" y="423" width="5" height="28" fill="#000"/>
<rect x="559" y="472" width="1" height="18" fill="#000"/>
<rect x="557" y="450" width="5" height="22" fill="#000"/>
<rect x="567" y="447" width="1" height="24" fill="#000"/>
<rect x="567" y="478" width="1" height="7" fill="#000"/>
<rect x="565" y="471" width="5" height="7" fill="#000"/>
<rect x="575" y="470" width="1" height="7" fill="#000"/>
<rect x="575" y="478" width="1" height="8" fill="#000"/>
<rect x="573" y="477" width="5" height="1" fill="#000"/>
<rect x="583" y="473" width="1" height="3" fill="#000"/>
<rect x="581" y="476" width="5" height="2" fill="#000"/>
<rect x="591" y="415" width="1" height="9" fill="#000"/>
<rect x="591" y="477" width="1" height="11" fill="#000"/>
<rect x="589" y="424" width="5" height="53" fill="#000"/>
<rect x="590" y="425" width="3" height="51" fill="#fff"/>
<rect x="599" y="405" width="1" height="19" fill="#000"/>
<rect x="599" y="425" width="1" height="28" fill="#000"/>
<rect x="597" y="424" width="5" height="1" fill="#000"/>
<rect x="607" y="418" width="1" height="7" fill="#000"/>
<rect x="607" y="433" width="1" height="11" fill="#000"/>
<rect x="605" y="425" width="5" height="8" fill="#000"/>
<rect x="615" y="445" width="1" height="2" fill="#000"/>
<rect x="613" y="432" width="5" height="13" fill="#000"/>
<rect x="623" y="442" width="1" height="1" fill="#000"/>
<rect x="623" y="461" width="1" height="10" fill="#000"/>
<rect x="621" y="443" width="5" height="18" fill="#000"/>
<rect x="631" y="451" width="1" height="5" fill="#000"/>
<rect x="631" y="461" width="1" height="1" fill="#000"/>
<rect x="629" y="456" width="5" height="5" fill="#000"/>
<rect x="630" y="457" width="3" height="3" fill="#fff"/>
<rect x="639" y="432" width="1" height="8" fill="#000"/>
<rect x="639" y="458" width="1" height="18" fill="#000"/>
<rect x="637" y="440" width="5" height="18" fill="#000"/>
<rect x="638" y="441" width="3" height="16" fill="#fff"/>
<rect x="647" y="419" width="1" height="22" fill="#000"/>
<rect x="647" y="442" width="1" height="8" fill="#000"/>
<rect x="645" y="441" width="5" height="1" fill="#000"/>
<rect x="655" y="406" width="1" height="23" fill="#000"/>
<rect x="655" y="442" width="1" height="5" fill="#000"/>
<rect x="653" y="429" width="5" height="13" fill="#000"/>
<rect x="654" y="430" width="3" height="11" fill="#fff"/>
<rect x="663" y="422" width="1" height="7" fill="#000"/>
<rect x="663" y="476" width="1" height="13" fill="#000"/>
<rect x="661" y="429" width="5" height="47" fill="#000"/>
<rect x="671" y="445" width="1" height="11" fill="#000"/>
<rect x="671" y="477" width="1" height="7" fill="#000"/>
<rect x="669" y="456" width="5" height="21" fill="#000"/>
<rect x="670" y="457" width="3" height="19" fill="#fff"/>
<rect x="679" y="445" width="1" height="2" fill="#000"/>
<rect x="679" y="450" width="1" height="1" fill="#000"/>
<rect x="677" y="447" width="5" height="3" fill="#000"/>
<rect x="678" y="448" width="3" height="1" fill="#fff"/>
<rect x="687" y="439" width="1" height="8" fill="#000"/>
<rect x="687" y="463" width="1" height="7" fill="#000"/>
<rect x="685" y="447" width="5" height="16" fill="#000"/>
<rect x="695" y="447" width="1" height="5" fill="#000"/>
<rect x="695" y="463" width="1" height="4" fill="#000"/>
<rect x="693" y="452" width="5" height="11" fill="#000"/>
<rect x="694" y="453" width="3" height="9" fill="#fff"/>
<rect x="703" y="432" width="1" height="9" fill="#000"/>
<rect x="703" y="453" width="1" height="7" fill="#000"/>
<rect x="701" y="441" width="5" height="12" fill="#000"/>
<rect x="702" y="442" width="3" height="10" fill="#fff"/>
<rect x="711" y="419" width="1" height="22" fill="#000"/>
<rect x="711" y="450" width="1" height="1" fill="#000"/>
<rect x="709" y="441" width="5" height="9" fill="#000"/>
<rect x="719" y="463" width="1" height="14" fill="#000"/>
<rect x="717" y="450" width="5" height="13" fill="#000"/>
<rect x="727" y="462" width="1" height="3" fill="#000"/>
<rect x="727" y="468" width="1" height="3" fill="#000"/>
<rect x="725" y="465" width="5" height="3" fill="#000"/>
<rect x="726" y="466" width="3" height="1" fill="#fff"/>
<rect x="735" y="455" width="1" height="8" fill="#000"/>
<rect x="735" y="466" width="1" height="35" fill="#000"/>
<rect x="733" y="463" width="5" height="3" fill="#000"/>
<rect x="734" y="464" width="3" height="1" fill="#fff"/>
<rect x="743" y="451" width="1" height="11" fill="#000"/>
<rect x="743" y="491" width="1" height="3" fill="#000"/>
<rect x="741" y="462" width="5" height="29" fill="#000"/>
<rect x="751" y="469" width="1" height="21" fill="#000"/>
<rect x="751" y="503" width="1" height="17" fill="#000"/>
<rect x="749" y="490" width="5" height="13" fill="#000"/>
<rect x="759" y="496" width="1" height="6" fill="#000"/>
<rect x="759" y="528" width="1" height="21" fill="#000"/>
<rect x="757" y="502" width="5" height="26" fill="#000"/>
<rect x="767" y="494" width="1" height="22" fill="#000"/>
<rect x="767" y="528" width="1" height="2" fill="#000"/>
<rect x="765" y="516" width="5" height="12" fill="#000"/>
<rect x="766" y="517" width="3" height="10" fill="#fff"/>
<rect x="775" y="501" width="1" height="1" fill="#000"/>
<rect x="775" y="512" width="1" height="1" fill="#000"/>
<rect x="773" y="502" width="5" height="10" fill="#000"/>
<rect x="774" y="503" width="3" height="8" fill="#fff"/>
<rect x="783" y="471" width="1" height="31" fill="#000"/>
<rect x="783" y="514" width="1" height="6" fill="#000"/>
<rect x="781" y="502" width="5" height="12" fill="#000"/>
<rect x="791" y="483" width="1" height="17" fill="#000"/>
<rect x="791" y="513" width="1" height="5" fill="#000"/>
<rect x="789" y="500" width="5" height="13" fill="#000"/>
<rect x="790" y="501" width="3" height="11" fill="#fff"/>
<rect x="799" y="489" width="1" height="9" fill="#000"/>
<rect x="799" y="501" width="1" height="11" fill="#000"/>
<rect x="797" y="498" width="5" height="3" fill="#000"/>
<rect x="798" y="499" width="3" height="1" fill="#fff"/>
<rect x="807" y="480" width="1" height="18" fill="#000"/>
<rect x="807" y="500" width="1" height="6" fill="#000"/>
<rect x="805" y="498" width="5" height="2" fill="#000"/>
<rect x="815" y="493" width="1" height="4" fill="#000"/>
<rect x="815" y="500" width="1" height="1" fill="#000"/>
<rect x="813" y="497" width="5" height="3" fill="#000"/>
<rect x="823" y="471" width="1" height="15" fill="#000"/>
<rect x="823" y="500" width="1" height="9" fill="#000"/>
<rect x="821" y="486" width="5" height="14" fill="#000"/>
<rect x="822" y="487" width="3" height="12" fill="#fff"/>
<rect x="831" y="478" width="1" height="8" fill="#000"/>
<rect x="831" y="498" width="1" height="7" fill="#000"/>
<rect x="829" y="486" width="5" height="12" fill="#000"/>
<rect x="839" y="494" width="1" height="2" fill="#000"/>
<rect x="839" y="530" width="1" height="12" fill="#000"/>
<rect x="837" y="496" width="5" height="34" fill="#000"/>
<rect x="847" y="514" width="1" height="9" fill="#000"/>
<rect x="847" y="529" width="1" height="11" fill="#000"/>
<rect x="845" y="523" width="5" height="6" fill="#000"/>
<rect x="846" y="524" width="3" height="4" fill="#fff"/>
<rect x="855" y="515" width="1" height="5" fill="#000"/>
<rect x="853" y="520" width="5" height="5" fill="#000"/>
<rect x="854" y="521" width="3" height="3" fill="#fff"/>
<rect x="863" y="519" width="1" height="1" fill="#000"/>
<rect x="863" y="529" width="1" height="32" fill="#000"/>
<rect x="861" y="520" width="5" height="9" fill="#000"/>
<rect x="871" y="524" width="1" height="4" fill="#000"/>
<rect x="871" y="563" width="1" height="6" fill="#000"/>
<rect x="869" y="528" width="5" height="35" fill="#000"/>
<rect x="879" y="505" width="1" height="32" fill="#000"/>
<rect x="879" y="563" width="1" height="7" fill="#000"/>
<rect x="877" y="537" width="5" height="26" fill="#000"/>
<rect x="878" y="538" width="3" height="24" fill="#fff"/>
<rect x="887" y="466" width="1" height="12" fill="#000"/>
<rect x="887" y="538" width="1" height="5" fill="#000"/>
<rect x="885" y="478" width="5" height="60" fill="#000"/>
<rect x="886" y="479" width="3" height="58" fill="#fff"/>
<rect x="895" y="456" width="1" height="14" fill="#000"/>
<rect x="895" y="478" width="1" height="16" fill="#000"/>
<rect x="893" y="470" width="5" height="8" fill="#000"/>
<rect x="894" y="471" width="3" height="6" fill="#fff"/>
<rect x="903" y="471" width="1" height="1" fill="#000"/>
<rect x="901" y="456" width="5" height="15" fill="#000"/>
<rect x="902" y="457" width="3" height="13" fill="#fff"/>
<rect x="911" y="433" width="1" height="19" fill="#000"/>
<rect x="911" y="457" width="1" height="4" fill="#000"/>
<rect x="909" y="452" width="5" height="5" fill="#000"/>
<rect x="910" y="453" width="3" height="3" fill="#fff"/>
<rect x="919" y="438" width="1" height="15" fill="#000"/>
<rect x="919" y="483" width="1" height="2" fill="#000"/>
<rect x="917" y="453" width="5" height="30" fill="#000"/>
<rect x="927" y="463" width="1" height="13" fill="#000"/>
<rect x="927" y="483" width="1" height="17" fill="#000"/>
<rect x="925" y="476" width="5" height="7" fill="#000"/>
<rect x="926" y="477" width="3" height="5" fill="#fff"/>
<rect x="935" y="448" width="1" height="28" fill="#000"/>
<rect x="935" y="477" width="1" height="20" fill="#000"/>
<rect x="933" y="476" width="5" height="1" fill="#000"/>
<rect x="943" y="471" width="1" height="2" fill="#000"/>
<rect x="943" y="476" width="1" height="17" fill="#000"/>
<rect x="941" y="473" width="5" height="3" fill="#000"/>
<rect x="942" y="474" width="3" height="1" fill="#fff"/>
<rect x="951" y="477" width="1" height="1" fill="#000"/>
<rect x="949" y="469" width="5" height="8" fill="#000"/>
<rect x="950" y="470" width="3" height="6" fill="#fff"/>
<rect x="959" y="468" width="1" height="2" fill="#000"/>
<rect x="959" y="486" width="1" height="5" fill="#000"/>
<rect x="957" y="470" width="5" height="16" fill="#000"/>
<rect x="967" y="456" width="1" height="14" fill="#000"/>
<rect x="967" y="486" width="1" height="4" fill="#000"/>
<rect x="965" y="470" width="5" height="16" fill="#000"/>
<rect x="966" y="471" width="3" height="14" fill="#fff"/>
<rect x="975" y="468" width="1" height="2" fill="#000"/>
<rect x="975" y="497" width="1" height="9" fill="#000"/>
<rect x="973" y="470" width="5" height="27" fill="#000"/>
<rect x="983" y="488" width="1" height="9" fill="#000"/>
<rect x="983" y="500" width="1" height="15" fill="#000"/>
<rect x="981" y="497" width="5" height="3" fill="#000"/>
<rect x="991" y="472" width="1" height="3" fill="#000"/>
<rect x="991" y="501" width="1" height="1" fill="#000"/>
<rect x="989" y="475" width="5" height="26" fill="#000"/>
<rect x="990" y="476" width="3" height="24" fill="#fff"/>
<rect x="999" y="476" width="1" height="1" fill="#000"/>
<rect x="999" y="480" width="1" height="1" fill="#000"/>
<rect x="997" y="477" width="5" height="3" fill="#000"/>
<rect x="1007" y="468" width="1" height="11" fill="#000"/>
<rect x="1007" y="482" width="1" height="7" fill="#000"/>
<rect x="1005" y="479" width="5" height="3" fill="#000"/>
<rect x="1015" y="476" width="1" height="5" fill="#000"/>
<rect x="1015" y="494" width="1" height="3" fill="#000"/>
<rect x="1013" y="481" width="5" height="13" fill="#000"/>
<rect x="1023" y="448" width="1" height="4" fill="#000"/>
<rect x="1023" y="494" width="1" height="1" fill="#000"/>
<rect x="1021" y="452" width="5" height="42" fill="#000"/>
<rect x="1022" y="453" width="3" height="40" fill="#fff"/>
<rect x="1031" y="428" width="1" height="12" fill="#000"/>
<rect x="1029" y="440" width="5" height="13" fill="#000"/>
<rect x="1030" y="441" width="3" height="11" fill="#fff"/>
<rect x="1039" y="392" width="1" height="14" fill="#000"/>
<rect x="1039" y="441" width="1" height="1" fill="#000"/>
<rect x="1037" y="406" width="5" height="35" fill="#000"/>
<rect x="1038" y="407" width="3" height="33" fill="#fff"/>
<rect x="1047" y="403" width="1" height="1" fill="#000"/>
<rect x="1047" y="410" width="1" height="3" fill="#000"/>
<rect x="1045" y="404" width="5" height="6" fill="#000"/>
<rect x="1055" y="385" width="1" height="11" fill="#000"/>
<rect x="1055" y="411" width="1" height="7" fill="#000"/>
<rect x="1053" y="396" width="5" height="15" fill="#000"/>
<rect x="1054" y="397" width="3" height="13" fill="#fff"/>
<rect x="1063" y="374" width="1" height="11" fill="#000"/>
<rect x="1063" y="397" width="1" height="4" fill="#000"/>
<rect x="1061" y="385" width="5" height="12" fill="#000"/>
<rect x="1062" y="386" width="3" height="10" fill="#fff"/>
<rect x="1071" y="379" width="1" height="6" fill="#000"/>
<rect x="1071" y="388" width="1" height="6" fill="#000"/>
<rect x="1069" y="385" width="5" height="3" fill="#000"/>
<rect x="1079" y="341" width="1" height="3" fill="#000"/>
<rect x="1079" y="388" width="1" height="2" fill="#000"/>
<rect x="1077" y="344" width="5" height="44" fill="#000"/>
<rect x="1078" y="345" width="3" height="42" fill="#fff"/>
<rect x="1087" y="329" width="1" height="15" fill="#000"/>
<rect x="1087" y="355" width="1" height="8" fill="#000"/>
<rect x="1085" y="344" width="5" height="11" fill="#000"/>
<rect x="1095" y="354" width="1" height="3" fill="#000"/>
<rect x="1095" y="360" width="1" height="1" fill="#000"/>
<rect x="1093" y="357" width="5" height="3" fill="#000"/>
<rect x="1094" y="358" width="3" height="1" fill="#fff"/>
<rect x="1103" y="336" width="1" height="21" fill="#000"/>
<rect x="1103" y="372" width="1" height="5" fill="#000"/>
<rect x="1101" y="357" width="5" height="15" fill="#000"/>
<rect x="1111" y="370" width="1" height="2" fill="#000"/>
<rect x="1111" y="420" width="1" height="6" fill="#000"/>
<rect x="1109" y="372" width="5" height="48" fill="#000"/>
<rect x="1119" y="399" width="1" height="18" fill="#000"/>
<rect x="1119" y="420" width="1" height="13" fill="#000"/>
<rect x="1117" y="417" width="5" height="3" fill="#000"/>
<rect x="1118" y="418" width="3" height="1" fill="#fff"/>
<rect x="1127" y="402" width="1" height="4" fill="#000"/>
<rect x="1127" y="417" width="1" height="4" fill="#000"/>
<rect x="1125" y="406" width="5" height="11" fill="#000"/>
<rect x="1126" y="407" width="3" height="9" fill="#fff"/>
<rect x="1135" y="374" width="1" height="15" fill="#000"/>
<rect x="1135" y="407" width="1" height="1" fill="#000"/>
<rect x="1133" y="389" width="5" height="18" fill="#000"/>
<rect x="1134" y="390" width="3" height="16" fill="#fff"/>
<rect x="1143" y="381" width="1" height="1" fill="#000"/>
<rect x="1143" y="392" width="1" height="1" fill="#000"/>
<rect x="1141" y="382" width="5" height="10" fill="#000"/>
<rect x="1142" y="383" width="3" height="8" fill="#fff"/>
<rect x="1151" y="356" width="1" height="3" fill="#000"/>
<rect x="1151" y="384" width="1" height="6" fill="#000"/>
<rect x="1149" y="359" width="5" height="25" fill="#000"/>
<rect x="1150" y="360" width="3" height="23" fill="#fff"/>
<rect x="1159" y="295" width="1" height="9" fill="#000"/>
<rect x="1159" y="360" width="1" height="15" fill="#000"/>
<rect x="1157" y="304" width="5" height="56" fill="#000"/>
<rect x="1158" y="305" width="3" height="54" fill="#fff"/>
<rect x="1167" y="296" width="1" height="8" fill="#000"/>
<rect x="1167" y="324" width="1" height="5" fill="#000"/>
<rect x="1165" y="304" width="5" height="20" fill="#000"/>
<rect x="1175" y="318" width="1" height="5" fill="#000"/>
<rect x="1175" y="339" width="1" height="4" fill="#000"/>
<rect x="1173" y="323" width="5" height="16" fill="#000"/>
<rect x="1183" y="331" width="1" height="7" fill="#000"/>
<rect x="1183" y="351" width="1" height="19" fill="#000"/>
<rect x="1181" y="338" width="5" height="13" fill="#000"/>
<rect x="1191" y="340" width="1" height="7" fill="#000"/>
<rect x="1191" y="350" width="1" height="1" fill="#000"/>
<rect x="1189" y="347" width="5" height="3" fill="#000"/>
<rect x="1190" y="348" width="3" height="1" fill="#fff"/>
<rect x="1199" y="323" width="1" height="24" fill="#000"/>
<rect x="1199" y="388" width="1" height="6" fill="#000"/>
<rect x="1197" y="347" width="5" height="41" fill="#000"/>
<rect x="1207" y="355" width="1" height="11" fill="#000"/>
<rect x="1207" y="387" width="1" height="7" fill="#000"/>
<rect x="1205" y="366" width="5" height="21" fill="#000"/>
<rect x="1206" y="367" width="3" height="19" fill="#fff"/>
<rect x="1215" y="304" width="1" height="12" fill="#000"/>
<rect x="1215" y="365" width="1" height="3" fill="#000"/>
<rect x="1213" y="316" width="5" height="49" fill="#000"/>
<rect x="1214" y="317" width="3" height="47" fill="#fff"/>
<rect x="1223" y="281" width="1" height="1" fill="#000"/>
<rect x="1223" y="315" width="1" height="3" fill="#000"/>
<rect x="1221" y="282" width="5" height="33" fill="#000"/>
<rect x="1222" y="283" width="3" height="31" fill="#fff"/>
<rect x="1231" y="259" width="1" height="6" fill="#000"/>
<rect x="1231" y="283" width="1" height="41" fill="#000"/>
<rect x="1229" y="265" width="5" height="18" fill="#000"/>
<rect x="1230" y="266" width="3" height="16" fill="#fff"/>
<rect x="1239" y="267" width="1" height="5" fill="#000"/>
<rect x="1239" y="276" width="1" height="1" fill="#000"/>
<rect x="1237" y="272" width="5" height="4" fill="#000"/>
<rect x="1247" y="245" width="1" height="4" fill="#000"/>
<rect x="1247" y="276" width="1" height="9" fill="#000"/>
<rect x="1245" y="249" width="5" height="27" fill="#000"/>
<rect x="1246" y="250" width="3" height="25" fill="#fff"/>
<rect x="1255" y="239" width="1" height="9" fill="#000"/>
<rect x="1255" y="254" width="1" height="7" fill="#000"/>
<rect x="1253" y="248" width="5" height="6" fill="#000"/>
<rect x="1263" y="224" width="1" height="8" fill="#000"/>
<rect x="1263" y="256" width="1" height="4" fill="#000"/>
<rect x="1261" y="232" width="5" height="24" fill="#000"/>
<rect x="1262" y="233" width="3" height="22" fill="#fff"/>
<rect x="1271" y="160" width="1" height="4" fill="#000"/>
<rect x="1271" y="232" width="1" height="8" fill="#000"/>
<rect x="1269" y="164" width="5" height="68" fill="#000"/>
<rect x="1270" y="165" width="3" height="66" fill="#fff"/>
<rect x="1279" y="111" width="1" height="24" fill="#000"/>
<rect x="1279" y="164" width="1" height="11" fill="#000"/>
<rect x="1277" y="135" width="5" height="29" fill="#000"/>
<rect x="1278" y="136" width="3" height="27" fill="#fff"/>
<rect x="1287" y="125" width="1" height="5" fill="#000"/>
<rect x="1287" y="133" width="1" height="1" fill="#000"/>
<rect x="1285" y="130" width="5" height="3" fill="#000"/>
<rect x="1286" y="131" width="3" height="1" fill="#fff"/>
<rect x="1295" y="89" width="1" height="1" fill="#000"/>
<rect x="1295" y="130" width="1" height="8" fill="#000"/>
<rect x="1293" y="90" width="5" height="40" fill="#000"/>
<rect x="1294" y="91" width="3" height="38" fill="#fff"/>
<rect x="1303" y="67" width="1" height="24" fill="#000"/>
<rect x="1303" y="118" width="1" height="12" fill="#000"/>
<rect x="1301" y="91" width="5" height="27" fill="#000"/>
<rect x="1311" y="91" width="1" height="26" fill="#000"/>
<rect x="1311" y="127" width="1" height="8" fill="#000"/>
<rect x="1309" y="117" width="5" height="10" fill="#000"/>
<rect x="1319" y="99" width="1" height="19" fill="#000"/>
<rect x="1319" y="127" width="1" height="7" fill="#000"/>
<rect x="1317" y="118" width="5" height="9" fill="#000"/>
<rect x="1318" y="119" width="3" height="7" fill="#fff"/>
<rect x="1327" y="72" width="1" height="8" fill="#000"/>
<rect x="1327" y="117" width="1" height="5" fill="#000"/>
<rect x="1325" y="80" width="5" height="37" fill="#000"/>
<rect x="1326" y="81" width="3" height="35" fill="#fff"/>
<rect x="1335" y="70" width="1" height="6" fill="#000"/>
<rect x="1335" y="80" width="1" height="1" fill="#000"/>
<rect x="1333" y="76" width="5" height="4" fill="#000"/>
<rect x="1334" y="77" width="3" height="2" fill="#fff"/>
<rect x="1343" y="58" width="1" height="18" fill="#000"/>
<rect x="1343" y="77" width="1" height="15" fill="#000"/>
<rect x="1341" y="76" width="5" height="1" fill="#000"/>
<rect x="1351" y="63" width="1" height="12" fill="#000"/>
<rect x="1351" y="84" width="1" height="19" fill="#000"/>
<rect x="1349" y="75" width="5" height="9" fill="#000"/>
<rect x="1359" y="60" width="1" height="24" fill="#000"/>
<rect x="1359" y="94" width="1" height="9" fill="#000"/>
<rect x="1357" y="84" width="5" height="10" fill="#000"/>
<rect x="1367" y="62" width="1" height="27" fill="#000"/>
<rect x="1367" y="92" width="1" height="22" fill="#000"/>
<rect x="1365" y="89" width="5" height="3" fill="#000"/>
<rect x="1366" y="90" width="3" height="1" fill="#fff"/>
<rect x="1375" y="75" width="1" height="15" fill="#000"/>
<rect x="1375" y="94" width="1" height="22" fill="#000"/>
<rect x="1373" y="90" width="5" height="4" fill="#000"/>
<rect x="1383" y="90" width="1" height="4" fill="#000"/>
<rect x="1383" y="95" width="1" height="1" fill="#000"/>
<rect x="1381" y="94" width="5" height="1" fill="#000"/>
<rect x="1391" y="88" width="1" height="6" fill="#000"/>
<rect x="1391" y="103" width="1" height="12" fill="#000"/>
<rect x="1389" y="94" width="5" height="9" fill="#000"/>
<rect x="1399" y="94" width="1" height="8" fill="#000"/>
<rect x="1399" y="122" width="1" height="8" fill="#000"/>
<rect x="1397" y="102" width="5" height="20" fill="#000"/>
<rect x="1407" y="88" width="1" height="17" fill="#000"/>
<rect x="1407" y="121" width="1" height="5" fill="#000"/>
<rect x="1405" y="105" width="5" height="16" fill="#000"/>
<rect x="1406" y="106" width="3" height="14" fill="#fff"/>
</g>
<line x1="1197.5" y1="380.5" x2="1337.9" y2="70.6" stroke="#ff0000" stroke-width="3.3" stroke-linecap="round"/>
<path d="M1342.0 61.5L1341.2 74.3L1332.9 70.5z" fill="#ff0000" stroke="#ff0000" stroke-width="1.2" stroke-linejoin="round"/>
<line x1="1342.5" y1="62.5" x2="1389.5" y2="121.7" stroke="#ff0000" stroke-width="3.3" stroke-linecap="round"/>
<path d="M1395.7 129.5L1384.6 123.0L1391.8 117.2z" fill="#ff0000" stroke="#ff0000" stroke-width="1.2" stroke-linejoin="round"/>
<line x1="1397.7" y1="128.5" x2="1417.4" y2="104.0" stroke="#ff0000" stroke-width="3.3" stroke-linecap="round"/>
<path d="M1423.7 96.2L1419.8 108.4L1412.6 102.7z" fill="#ff0000" stroke="#ff0000" stroke-width="1.2" stroke-linejoin="round"/>
<rect x="1277" y="104" width="171" height="7" fill="#00ff00"/>
<rect x="1272.5" y="48.5" width="61" height="18" fill="#fff" stroke="#ff0000" stroke-width="1"/>
<rect x="1334" y="57" width="10" height="1" fill="#ff0000"/>
<text x="1274.6" y="63.9" font-family="Liberation Sans, sans-serif" font-size="16.8" fill="#ff0000" text-anchor="start" textLength="57.6" lengthAdjust="spacingAndGlyphs">109.357</text>
<rect x="1112.5" y="97.5" width="61" height="18" fill="#fff" stroke="#ff0000" stroke-width="1"/>
<rect x="1174" y="106" width="10" height="1" fill="#ff0000"/>
<text x="1114.6" y="112.9" font-family="Liberation Sans, sans-serif" font-size="16.8" fill="#ff0000" text-anchor="start" textLength="57.6" lengthAdjust="spacingAndGlyphs">108.710</text>
<rect x="1088.5" y="286.5" width="61" height="18" fill="#fff" stroke="#ff0000" stroke-width="1"/>
<rect x="1150" y="295" width="10" height="1" fill="#ff0000"/>
<text x="1090.6" y="301.9" font-family="Liberation Sans, sans-serif" font-size="16.8" fill="#ff0000" text-anchor="start" textLength="57.6" lengthAdjust="spacingAndGlyphs">106.210</text>
<text x="1479.6" y="133.6" font-family="Liberation Sans, Noto Sans CJK SC, sans-serif" font-weight="300" font-size="22" fill="#00ff00" textLength="109.5" lengthAdjust="spacingAndGlyphs">多空转折点</text>
<path d="M1418.8 31h9.6l-4.8 4.9z" fill="#a8a8a8"/>
</g>
<g clip-path="url(#cd)" shape-rendering="crispEdges">
<rect x="-1" y="699" width="1" height="10" fill="#c0c0c0"/>
<rect x="7" y="699" width="1" height="13" fill="#c0c0c0"/>
<rect x="15" y="699" width="1" height="11" fill="#c0c0c0"/>
<rect x="23" y="699" width="1" height="11" fill="#c0c0c0"/>
<rect x="31" y="699" width="1" height="8" fill="#c0c0c0"/>
<rect x="39" y="699" width="1" height="6" fill="#c0c0c0"/>
<rect x="47" y="699" width="1" height="4" fill="#c0c0c0"/>
<rect x="55" y="699" width="1" height="1" fill="#c0c0c0"/>
<rect x="63" y="698" width="1" height="2" fill="#c0c0c0"/>
<rect x="71" y="699" width="1" height="1" fill="#c0c0c0"/>
<rect x="79" y="698" width="1" height="2" fill="#c0c0c0"/>
<rect x="87" y="698" width="1" height="2" fill="#c0c0c0"/>
<rect x="95" y="698" width="1" height="2" fill="#c0c0c0"/>
<rect x="103" y="698" width="1" height="2" fill="#c0c0c0"/>
<rect x="111" y="699" width="1" height="2" fill="#c0c0c0"/>
<rect x="119" y="699" width="1" height="8" fill="#c0c0c0"/>
<rect x="127" y="699" width="1" height="15" fill="#c0c0c0"/>
<rect x="135" y="699" width="1" height="23" fill="#c0c0c0"/>
<rect x="143" y="699" width="1" height="30" fill="#c0c0c0"/>
<rect x="151" y="699" width="1" height="36" fill="#c0c0c0"/>
<rect x="159" y="699" width="1" height="39" fill="#c0c0c0"/>
<rect x="167" y="699" width="1" height="37" fill="#c0c0c0"/>
<rect x="175" y="699" width="1" height="33" fill="#c0c0c0"/>
<rect x="183" y="699" width="1" height="29" fill="#c0c0c0"/>
<rect x="191" y="699" width="1" height="24" fill="#c0c0c0"/>
<rect x="199" y="699" width="1" height="20" fill="#c0c0c0"/>
<rect x="207" y="699" width="1" height="18" fill="#c0c0c0"/>
<rect x="215" y="699" width="1" height="14" fill="#c0c0c0"/>
<rect x="223" y="699" width="1" height="13" fill="#c0c0c0"/>
<rect x="231" y="699" width="1" height="11" fill="#c0c0c0"/>
<rect x="239" y="699" width="1" height="10" fill="#c0c0c0"/>
<rect x="247" y="699" width="1" height="9" fill="#c0c0c0"/>
<rect x="255" y="699" width="1" height="6" fill="#c0c0c0"/>
<rect x="263" y="699" width="1" height="4" fill="#c0c0c0"/>
<rect x="271" y="699" width="1" height="1" fill="#c0c0c0"/>
<rect x="279" y="695" width="1" height="5" fill="#c0c0c0"/>
<rect x="287" y="696" width="1" height="4" fill="#c0c0c0"/>
<rect x="295" y="696" width="1" height="4" fill="#c0c0c0"/>
<rect x="303" y="699" width="1" height="1" fill="#c0c0c0"/>
<rect x="311" y="699" width="1" height="1" fill="#c0c0c0"/>
<rect x="319" y="699" width="1" height="5" fill="#c0c0c0"/>
<rect x="327" y="699" width="1" height="6" fill="#c0c0c0"/>
<rect x="335" y="699" width="1" height="6" fill="#c0c0c0"/>
<rect x="343" y="699" width="1" height="6" fill="#c0c0c0"/>
<rect x="351" y="699" width="1" height="5" fill="#c0c0c0"/>
<rect x="359" y="699" width="1" height="5" fill="#c0c0c0"/>
<rect x="367" y="699" width="1" height="11" fill="#c0c0c0"/>
<rect x="375" y="699" width="1" height="14" fill="#c0c0c0"/>
<rect x="383" y="699" width="1" height="18" fill="#c0c0c0"/>
<rect x="391" y="699" width="1" height="20" fill="#c0c0c0"/>
<rect x="399" y="699" width="1" height="21" fill="#c0c0c0"/>
<rect x="407" y="699" width="1" height="24" fill="#c0c0c0"/>
<rect x="415" y="699" width="1" height="28" fill="#c0c0c0"/>
<rect x="423" y="699" width="1" height="29" fill="#c0c0c0"/>
<rect x="431" y="699" width="1" height="28" fill="#c0c0c0"/>
<rect x="439" y="699" width="1" height="28" fill="#c0c0c0"/>
<rect x="447" y="699" width="1" height="26" fill="#c0c0c0"/>
<rect x="455" y="699" width="1" height="26" fill="#c0c0c0"/>
<rect x="463" y="699" width="1" height="27" fill="#c0c0c0"/>
<rect x="471" y="699" width="1" height="34" fill="#c0c0c0"/>
<rect x="479" y="699" width="1" height="42" fill="#c0c0c0"/>
<rect x="487" y="699" width="1" height="47" fill="#c0c0c0"/>
<rect x="495" y="699" width="1" height="36" fill="#c0c0c0"/>
<rect x="503" y="699" width="1" height="25" fill="#c0c0c0"/>
<rect x="511" y="699" width="1" height="15" fill="#c0c0c0"/>
<rect x="519" y="699" width="1" height="10" fill="#c0c0c0"/>
<rect x="527" y="699" width="1" height="10" fill="#c0c0c0"/>
<rect x="535" y="699" width="1" height="9" fill="#c0c0c0"/>
<rect x="543" y="699" width="1" height="10" fill="#c0c0c0"/>
<rect x="551" y="699" width="1" height="13" fill="#c0c0c0"/>
<rect x="559" y="699" width="1" height="18" fill="#c0c0c0"/>
<rect x="567" y="699" width="1" height="22" fill="#c0c0c0"/>
<rect x="575" y="699" width="1" height="25" fill="#c0c0c0"/>
<rect x="583" y="699" width="1" height="27" fill="#c0c0c0"/>
<rect x="591" y="699" width="1" height="22" fill="#c0c0c0"/>
<rect x="599" y="699" width="1" height="19" fill="#c0c0c0"/>
<rect x="607" y="699" width="1" height="16" fill="#c0c0c0"/>
<rect x="615" y="699" width="1" height="16" fill="#c0c0c0"/>
<rect x="623" y="699" width="1" height="17" fill="#c0c0c0"/>
<rect x="631" y="699" width="1" height="17" fill="#c0c0c0"/>
<rect x="639" y="699" width="1" height="15" fill="#c0c0c0"/>
<rect x="647" y="699" width="1" height="14" fill="#c0c0c0"/>
<rect x="655" y="699" width="1" height="11" fill="#c0c0c0"/>
<rect x="663" y="699" width="1" height="14" fill="#c0c0c0"/>
<rect x="671" y="699" width="1" height="14" fill="#c0c0c0"/>
<rect x="679" y="699" width="1" height="13" fill="#c0c0c0"/>
<rect x="687" y="699" width="1" height="13" fill="#c0c0c0"/>
<rect x="695" y="699" width="1" height="13" fill="#c0c0c0"/>
<rect x="703" y="699" width="1" height="11" fill="#c0c0c0"/>
<rect x="711" y="699" width="1" height="10" fill="#c0c0c0"/>
<rect x="719" y="699" width="1" height="11" fill="#c0c0c0"/>
<rect x="727" y="699" width="1" height="12" fill="#c0c0c0"/>
<rect x="735" y="699" width="1" height="12" fill="#c0c0c0"/>
<rect x="743" y="699" width="1" height="15" fill="#c0c0c0"/>
<rect x="751" y="699" width="1" height="18" fill="#c0c0c0"/>
<rect x="759" y="699" width="1" height="24" fill="#c0c0c0"/>
<rect x="767" y="699" width="1" height="26" fill="#c0c0c0"/>
<rect x="775" y="699" width="1" height="26" fill="#c0c0c0"/>
<rect x="783" y="699" width="1" height="28" fill="#c0c0c0"/>
<rect x="791" y="699" width="1" height="27" fill="#c0c0c0"/>
<rect x="799" y="699" width="1" height="26" fill="#c0c0c0"/>
<rect x="807" y="699" width="1" height="24" fill="#c0c0c0"/>
<rect x="815" y="699" width="1" height="23" fill="#c0c0c0"/>
<rect x="823" y="699" width="1" height="21" fill="#c0c0c0"/>
<rect x="831" y="699" width="1" height="20" fill="#c0c0c0"/>
<rect x="839" y="699" width="1" height="22" fill="#c0c0c0"/>
<rect x="847" y="699" width="1" height="23" fill="#c0c0c0"/>
<rect x="855" y="699" width="1" height="23" fill="#c0c0c0"/>
<rect x="863" y="699" width="1" height="24" fill="#c0c0c0"/>
<rect x="871" y="699" width="1" height="28" fill="#c0c0c0"/>
<rect x="879" y="699" width="1" height="28" fill="#c0c0c0"/>
<rect x="887" y="699" width="1" height="22" fill="#c0c0c0"/>
<rect x="895" y="699" width="1" height="15" fill="#c0c0c0"/>
<rect x="903" y="699" width="1" height="9" fill="#c0c0c0"/>
<rect x="911" y="699" width="1" height="3" fill="#c0c0c0"/>
<rect x="919" y="699" width="1" height="1" fill="#c0c0c0"/>
<rect x="927" y="699" width="1" height="1" fill="#c0c0c0"/>
<rect x="935" y="697" width="1" height="3" fill="#c0c0c0"/>
<rect x="943" y="696" width="1" height="4" fill="#c0c0c0"/>
<rect x="951" y="695" width="1" height="5" fill="#c0c0c0"/>
<rect x="959" y="695" width="1" height="5" fill="#c0c0c0"/>
<rect x="967" y="694" width="1" height="6" fill="#c0c0c0"/>
<rect x="975" y="696" width="1" height="4" fill="#c0c0c0"/>
<rect x="983" y="698" width="1" height="2" fill="#c0c0c0"/>
<rect x="991" y="697" width="1" height="3" fill="#c0c0c0"/>
<rect x="999" y="697" width="1" height="3" fill="#c0c0c0"/>
<rect x="1007" y="697" width="1" height="3" fill="#c0c0c0"/>
<rect x="1015" y="698" width="1" height="2" fill="#c0c0c0"/>
<rect x="1023" y="695" width="1" height="5" fill="#c0c0c0"/>
<rect x="1031" y="691" width="1" height="9" fill="#c0c0c0"/>
<rect x="1039" y="684" width="1" height="16" fill="#c0c0c0"/>
<rect x="1047" y="679" width="1" height="21" fill="#c0c0c0"/>
<rect x="1055" y="674" width="1" height="26" fill="#c0c0c0"/>
<rect x="1063" y="669" width="1" height="31" fill="#c0c0c0"/>
<rect x="1071" y="666" width="1" height="34" fill="#c0c0c0"/>
<rect x="1079" y="659" width="1" height="41" fill="#c0c0c0"/>
<rect x="1087" y="656" width="1" height="44" fill="#c0c0c0"/>
<rect x="1095" y="653" width="1" height="47" fill="#c0c0c0"/>
<rect x="1103" y="654" width="1" height="46" fill="#c0c0c0"/>
<rect x="1111" y="660" width="1" height="40" fill="#c0c0c0"/>
<rect x="1119" y="665" width="1" height="35" fill="#c0c0c0"/>
<rect x="1127" y="668" width="1" height="32" fill="#c0c0c0"/>
<rect x="1135" y="669" width="1" height="31" fill="#c0c0c0"/>
<rect x="1143" y="669" width="1" height="31" fill="#c0c0c0"/>
<rect x="1151" y="667" width="1" height="33" fill="#c0c0c0"/>
<rect x="1159" y="660" width="1" height="40" fill="#c0c0c0"/>
<rect x="1167" y="657" width="1" height="43" fill="#c0c0c0"/>
<rect x="1175" y="656" width="1" height="44" fill="#c0c0c0"/>
<rect x="1183" y="658" width="1" height="42" fill="#c0c0c0"/>
<rect x="1191" y="659" width="1" height="41" fill="#c0c0c0"/>
<rect x="1199" y="665" width="1" height="35" fill="#c0c0c0"/>
<rect x="1207" y="668" width="1" height="32" fill="#c0c0c0"/>
<rect x="1215" y="665" width="1" height="35" fill="#c0c0c0"/>
<rect x="1223" y="659" width="1" height="41" fill="#c0c0c0"/>
<rect x="1231" y="653" width="1" height="47" fill="#c0c0c0"/>
<rect x="1239" y="650" width="1" height="50" fill="#c0c0c0"/>
<rect x="1247" y="646" width="1" height="54" fill="#c0c0c0"/>
<rect x="1255" y="643" width="1" height="57" fill="#c0c0c0"/>
<rect x="1263" y="640" width="1" height="60" fill="#c0c0c0"/>
<rect x="1271" y="630" width="1" height="70" fill="#c0c0c0"/>
<rect x="1279" y="620" width="1" height="80" fill="#c0c0c0"/>
<rect x="1287" y="612" width="1" height="88" fill="#c0c0c0"/>
<rect x="1295" y="603" width="1" height="97" fill="#c0c0c0"/>
<rect x="1303" y="600" width="1" height="100" fill="#c0c0c0"/>
<rect x="1311" y="600" width="1" height="100" fill="#c0c0c0"/>
<rect x="1319" y="600" width="1" height="100" fill="#c0c0c0"/>
<rect x="1327" y="596" width="1" height="104" fill="#c0c0c0"/>
<rect x="1335" y="595" width="1" height="105" fill="#c0c0c0"/>
<rect x="1343" y="595" width="1" height="105" fill="#c0c0c0"/>
<rect x="1351" y="597" width="1" height="103" fill="#c0c0c0"/>
<rect x="1359" y="600" width="1" height="100" fill="#c0c0c0"/>
<rect x="1367" y="604" width="1" height="96" fill="#c0c0c0"/>
<rect x="1375" y="608" width="1" height="92" fill="#c0c0c0"/>
<rect x="1383" y="613" width="1" height="87" fill="#c0c0c0"/>
<rect x="1391" y="618" width="1" height="82" fill="#c0c0c0"/>
<rect x="1399" y="626" width="1" height="74" fill="#c0c0c0"/>
<rect x="1407" y="630" width="1" height="70" fill="#c0c0c0"/>
</g>
<g clip-path="url(#cd)">
<polyline points="-0.5,709.36 7.5,710.96 15.5,710.97 23.5,710.85 31.5,710.15 39.5,709.43 47.5,708.58 55.5,707.62 63.5,706.64 71.5,705.61 79.5,704.07 87.5,702.70 95.5,701.41 103.5,700.43 111.5,700.00 119.5,700.42 127.5,701.90 135.5,704.51 143.5,707.82 151.5,711.89 159.5,716.27 167.5,720.46 175.5,724.28 183.5,727.25 191.5,729.08 199.5,729.71 207.5,729.18 215.5,727.37 223.5,724.79 231.5,721.71 239.5,718.75 247.5,716.02 255.5,713.46 263.5,711.26 271.5,709.03 279.5,706.62 287.5,704.72 295.5,703.00 303.5,701.81 311.5,700.78 319.5,700.31 327.5,700.26 335.5,700.41 343.5,701.03 351.5,702.04 359.5,702.92 367.5,704.46 375.5,706.00 383.5,707.83 391.5,709.57 399.5,711.32 407.5,713.36 415.5,715.84 423.5,718.41 431.5,720.95 439.5,722.80 447.5,724.15 455.5,725.10 463.5,725.79 471.5,727.17 479.5,729.14 487.5,731.29 495.5,732.09 503.5,731.81 511.5,730.45 519.5,728.69 527.5,726.90 535.5,724.95 543.5,722.30 551.5,719.10 559.5,715.81 567.5,714.27 575.5,714.24 583.5,715.53 591.5,716.88 599.5,717.85 607.5,718.65 615.5,719.32 623.5,719.73 631.5,719.64 639.5,718.89 647.5,717.63 655.5,715.85 663.5,714.91 671.5,714.39 679.5,713.99 687.5,713.73 695.5,713.27 703.5,712.57 711.5,711.99 719.5,711.66 727.5,711.72 735.5,711.47 743.5,711.56 751.5,712.18 759.5,713.31 767.5,714.82 775.5,716.57 783.5,718.53 791.5,720.31 799.5,721.87 807.5,723.28 815.5,724.24 823.5,724.51 831.5,724.07 839.5,723.62 847.5,723.24 855.5,722.76 863.5,722.46 871.5,722.76 879.5,723.19 887.5,722.99 895.5,722.38 903.5,721.13 911.5,718.96 919.5,716.56 927.5,713.94 935.5,711.08 943.5,707.61 951.5,703.98 959.5,701.18 967.5,698.96 975.5,697.73 983.5,697.37 991.5,697.03 999.5,696.83 1007.5,696.79 1015.5,697.04 1023.5,697.06 1031.5,696.55 1039.5,695.40 1047.5,693.48 1055.5,690.78 1063.5,687.67 1071.5,684.24 1079.5,680.05 1087.5,675.30 1095.5,670.70 1103.5,666.59 1111.5,663.91 1119.5,662.30 1127.5,661.59 1135.5,661.52 1143.5,661.83 1151.5,662.69 1159.5,663.16 1167.5,663.53 1175.5,663.84 1183.5,663.64 1191.5,663.06 1199.5,662.79 1207.5,662.71 1215.5,662.26 1223.5,661.39 1231.5,660.67 1239.5,659.98 1247.5,658.78 1255.5,657.14 1263.5,654.93 1271.5,650.99 1279.5,645.65 1287.5,639.82 1295.5,633.59 1303.5,627.67 1311.5,622.04 1319.5,616.90 1327.5,611.71 1335.5,606.73 1343.5,602.81 1351.5,600.21 1359.5,598.86 1367.5,598.96 1375.5,599.90 1383.5,601.37 1391.5,603.46 1399.5,606.70 1407.5,610.65" fill="none" stroke="#ff0000" stroke-width="1" stroke-dasharray="3,3" shape-rendering="crispEdges"/>
<line x1="1353.6" y1="595.1" x2="1402.8" y2="629.5" stroke="#ff0000" stroke-width="3.3" stroke-linecap="round"/>
<path d="M1411.0 635.2L1398.5 632.1L1403.8 624.6z" fill="#ff0000" stroke="#ff0000" stroke-width="1.2" stroke-linejoin="round"/>
</g>
<g clip-path="url(#cr)">
<line x1="0" y1="793.5" x2="1678" y2="793.5" stroke="#c0c0c0" stroke-width="1" stroke-dasharray="3,3" stroke-dashoffset="2" shape-rendering="crispEdges"/>
<line x1="0" y1="844.5" x2="1678" y2="844.5" stroke="#c0c0c0" stroke-width="1" stroke-dasharray="3,3" stroke-dashoffset="2" shape-rendering="crispEdges"/>
<line x1="0" y1="905.5" x2="1678" y2="905.5" stroke="#c0c0c0" stroke-width="1" stroke-dasharray="3,3" stroke-dashoffset="2" shape-rendering="crispEdges"/>
<polyline points="-0.5,855.90 7.5,854.64 15.5,846.22 23.5,847.97 31.5,842.42 39.5,844.59 47.5,842.39 55.5,840.51 63.5,840.65 71.5,848.16 79.5,842.16 87.5,844.54 95.5,845.47 103.5,844.03 111.5,854.17 119.5,860.94 127.5,867.22 135.5,872.81 143.5,875.43 151.5,875.43 159.5,869.82 167.5,858.48 175.5,851.46 183.5,847.90 191.5,844.17 199.5,844.76 207.5,848.34 215.5,841.19 223.5,848.13 231.5,845.10 239.5,850.01 247.5,845.65 255.5,839.84 263.5,842.37 271.5,832.47 279.5,830.73 287.5,844.95 295.5,844.54 303.5,853.54 311.5,849.10 319.5,858.49 327.5,850.47 335.5,849.17 343.5,848.53 351.5,847.47 359.5,846.45 367.5,869.32 375.5,861.24 383.5,865.43 391.5,866.34 399.5,860.54 407.5,867.99 415.5,872.97 423.5,863.02 431.5,858.21 439.5,861.31 447.5,855.56 455.5,860.90 463.5,863.74 471.5,880.68 479.5,886.25 487.5,884.30 495.5,836.11 503.5,833.94 511.5,831.48 519.5,838.79 527.5,848.02 535.5,846.94 543.5,850.12 551.5,856.90 559.5,861.64 567.5,863.03 575.5,862.99 583.5,863.02 591.5,844.07 599.5,844.41 607.5,846.99 615.5,850.95 623.5,855.93 631.5,854.17 639.5,847.86 647.5,847.94 655.5,843.44 663.5,859.63 671.5,851.82 679.5,848.39 687.5,853.64 695.5,849.46 703.5,845.12 711.5,848.52 719.5,853.27 727.5,854.69 735.5,852.83 743.5,863.25 751.5,867.12 759.5,874.43 767.5,868.22 775.5,860.93 783.5,864.86 791.5,858.00 799.5,857.08 807.5,857.57 815.5,857.70 823.5,849.87 831.5,855.23 839.5,868.00 847.5,863.58 855.5,862.31 863.5,865.69 871.5,877.24 879.5,862.36 887.5,837.92 895.5,835.32 903.5,830.76 911.5,829.46 919.5,842.42 927.5,840.12 935.5,839.82 943.5,838.97 951.5,837.29 959.5,845.22 967.5,838.39 975.5,850.16 983.5,851.72 991.5,840.46 999.5,842.66 1007.5,843.52 1015.5,849.13 1023.5,831.66 1031.5,827.44 1039.5,817.27 1047.5,819.17 1055.5,815.43 1063.5,812.45 1071.5,814.07 1079.5,803.61 1087.5,809.80 1095.5,811.36 1103.5,819.45 1111.5,841.57 1119.5,840.48 1127.5,836.61 1135.5,830.83 1143.5,828.40 1151.5,821.38 1159.5,808.20 1167.5,817.55 1175.5,824.16 1183.5,829.17 1191.5,828.15 1199.5,843.93 1207.5,836.91 1215.5,823.93 1223.5,816.95 1231.5,813.66 1239.5,818.19 1247.5,812.86 1255.5,815.22 1263.5,810.96 1271.5,800.57 1279.5,797.07 1287.5,796.51 1295.5,792.14 1303.5,803.25 1311.5,806.88 1319.5,805.48 1327.5,800.29 1335.5,799.72 1343.5,799.70 1351.5,803.47 1359.5,808.23 1367.5,807.57 1375.5,809.76 1383.5,809.58 1391.5,814.70 1399.5,824.95 1407.5,820.01" fill="none" stroke="#1e90ff" stroke-width="1" shape-rendering="crispEdges"/>
<line x1="1311.0" y1="791.1" x2="1398.4" y2="815.5" stroke="#ff0000" stroke-width="3.3" stroke-linecap="round"/>
<path d="M1408.0 818.2L1395.2 819.4L1397.7 810.5z" fill="#ff0000" stroke="#ff0000" stroke-width="1.2" stroke-linejoin="round"/>
</g>
<g shape-rendering="crispEdges">
<rect x="0" y="30" width="1679" height="1" fill="#000"/>
<rect x="1678" y="30" width="1" height="902" fill="#000"/>
<rect x="0" y="583" width="1679" height="1" fill="#000"/>
<rect x="0" y="585" width="1679" height="1" fill="#000"/>
<rect x="0" y="755" width="1679" height="1" fill="#000"/>
<rect x="0" y="757" width="1679" height="1" fill="#000"/>
<rect x="0" y="931" width="1679" height="1" fill="#000"/>
</g>
<rect x="1679" y="52" width="2" height="1" fill="#000"/>
<text x="1684.5" y="55.4" font-family="Liberation Sans, sans-serif" font-size="9.9" fill="#000" text-anchor="start" textLength="32.0" lengthAdjust="spacingAndGlyphs" stroke="#000" stroke-width="0.22">109.430</text>
<rect x="1679" y="118" width="2" height="1" fill="#000"/>
<text x="1684.5" y="121.9" font-family="Liberation Sans, sans-serif" font-size="9.9" fill="#000" text-anchor="start" textLength="32.0" lengthAdjust="spacingAndGlyphs" stroke="#000" stroke-width="0.22">108.550</text>
<rect x="1679" y="184" width="2" height="1" fill="#000"/>
<text x="1684.5" y="187.6" font-family="Liberation Sans, sans-serif" font-size="9.9" fill="#000" text-anchor="start" textLength="32.0" lengthAdjust="spacingAndGlyphs" stroke="#000" stroke-width="0.22">107.680</text>
<rect x="1679" y="217" width="2" height="1" fill="#000"/>
<text x="1684.5" y="220.9" font-family="Liberation Sans, sans-serif" font-size="9.9" fill="#000" text-anchor="start" textLength="32.0" lengthAdjust="spacingAndGlyphs" stroke="#000" stroke-width="0.22">107.240</text>
<rect x="1679" y="250" width="2" height="1" fill="#000"/>
<text x="1684.5" y="253.4" font-family="Liberation Sans, sans-serif" font-size="9.9" fill="#000" text-anchor="start" textLength="32.0" lengthAdjust="spacingAndGlyphs" stroke="#000" stroke-width="0.22">106.810</text>
<rect x="1679" y="283" width="2" height="1" fill="#000"/>
<text x="1684.5" y="286.6" font-family="Liberation Sans, sans-serif" font-size="9.9" fill="#000" text-anchor="start" textLength="32.0" lengthAdjust="spacingAndGlyphs" stroke="#000" stroke-width="0.22">106.370</text>
<rect x="1679" y="316" width="2" height="1" fill="#000"/>
<text x="1684.5" y="319.9" font-family="Liberation Sans, sans-serif" font-size="9.9" fill="#000" text-anchor="start" textLength="32.0" lengthAdjust="spacingAndGlyphs" stroke="#000" stroke-width="0.22">105.930</text>
<rect x="1679" y="349" width="2" height="1" fill="#000"/>
<text x="1684.5" y="352.4" font-family="Liberation Sans, sans-serif" font-size="9.9" fill="#000" text-anchor="start" textLength="32.0" lengthAdjust="spacingAndGlyphs" stroke="#000" stroke-width="0.22">105.500</text>
<rect x="1679" y="382" width="2" height="1" fill="#000"/>
<text x="1684.5" y="385.6" font-family="Liberation Sans, sans-serif" font-size="9.9" fill="#000" text-anchor="start" textLength="32.0" lengthAdjust="spacingAndGlyphs" stroke="#000" stroke-width="0.22">105.060</text>
<rect x="1679" y="415" width="2" height="1" fill="#000"/>
<text x="1684.5" y="418.9" font-family="Liberation Sans, sans-serif" font-size="9.9" fill="#000" text-anchor="start" textLength="32.0" lengthAdjust="spacingAndGlyphs" stroke="#000" stroke-width="0.22">104.620</text>
<rect x="1679" y="448" width="2" height="1" fill="#000"/>
<text x="1684.5" y="451.4" font-family="Liberation Sans, sans-serif" font-size="9.9" fill="#000" text-anchor="start" textLength="32.0" lengthAdjust="spacingAndGlyphs" stroke="#000" stroke-width="0.22">104.190</text>
<rect x="1679" y="481" width="2" height="1" fill="#000"/>
<text x="1684.5" y="484.6" font-family="Liberation Sans, sans-serif" font-size="9.9" fill="#000" text-anchor="start" textLength="32.0" lengthAdjust="spacingAndGlyphs" stroke="#000" stroke-width="0.22">103.750</text>
<rect x="1679" y="514" width="2" height="1" fill="#000"/>
<text x="1684.5" y="517.9" font-family="Liberation Sans, sans-serif" font-size="9.9" fill="#000" text-anchor="start" textLength="32.0" lengthAdjust="spacingAndGlyphs" stroke="#000" stroke-width="0.22">103.310</text>
<rect x="1679" y="547" width="2" height="1" fill="#000"/>
<text x="1684.5" y="550.4" font-family="Liberation Sans, sans-serif" font-size="9.9" fill="#000" text-anchor="start" textLength="32.0" lengthAdjust="spacingAndGlyphs" stroke="#000" stroke-width="0.22">102.880</text>
<rect x="1679" y="580" width="2" height="1" fill="#000"/>
<text x="1684.5" y="583.6" font-family="Liberation Sans, sans-serif" font-size="9.9" fill="#000" text-anchor="start" textLength="32.0" lengthAdjust="spacingAndGlyphs" stroke="#000" stroke-width="0.22">102.440</text>
<rect x="1679" y="85" width="3" height="1" fill="#000"/>
<rect x="1679" y="151" width="3" height="1" fill="#000"/>
<rect x="1680" y="62" width="41" height="11" fill="#ff0000"/>
<text x="1684.5" y="71.2" font-family="Liberation Sans, sans-serif" font-size="9.9" fill="#fff" text-anchor="start" textLength="32.0" lengthAdjust="spacingAndGlyphs">109.211</text>
<rect x="1680" y="82" width="41" height="11" fill="#ff0000"/>
<text x="1684.5" y="91.2" font-family="Liberation Sans, sans-serif" font-size="9.9" fill="#fff" text-anchor="start" textLength="32.0" lengthAdjust="spacingAndGlyphs">108.947</text>
<rect x="1680" y="100" width="41" height="11" fill="#00cdd0"/>
<text x="1684.5" y="109.2" font-family="Liberation Sans, sans-serif" font-size="9.9" fill="#fff" text-anchor="start" textLength="32.0" lengthAdjust="spacingAndGlyphs">108.710</text>
<rect x="1680" y="126" width="41" height="11" fill="#0000ff"/>
<text x="1684.5" y="135.2" font-family="Liberation Sans, sans-serif" font-size="9.9" fill="#fff" text-anchor="start" textLength="32.0" lengthAdjust="spacingAndGlyphs">108.366</text>
<rect x="1680" y="144" width="41" height="11" fill="#0000ff"/>
<text x="1684.5" y="153.2" font-family="Liberation Sans, sans-serif" font-size="9.9" fill="#fff" text-anchor="start" textLength="32.0" lengthAdjust="spacingAndGlyphs">108.128</text>
<rect x="1679" y="587" width="2" height="1" fill="#000"/>
<text x="1682.5" y="595.8" font-family="Liberation Sans, sans-serif" font-size="9.9" fill="#000" text-anchor="start" textLength="27.0" lengthAdjust="spacingAndGlyphs" stroke="#000" stroke-width="0.22">1.0779</text>
<rect x="1679" y="699" width="2" height="1" fill="#000"/>
<text x="1682.0" y="702.9" font-family="Liberation Sans, sans-serif" font-size="9.9" fill="#000" text-anchor="start" textLength="17.5" lengthAdjust="spacingAndGlyphs" stroke="#000" stroke-width="0.22">0.00</text>
<rect x="1679" y="754" width="2" height="1" fill="#000"/>
<text x="1682.0" y="751.9" font-family="Liberation Sans, sans-serif" font-size="9.9" fill="#000" text-anchor="start" textLength="31.0" lengthAdjust="spacingAndGlyphs" stroke="#000" stroke-width="0.22">-0.5289</text>
<rect x="1679" y="759" width="2" height="1" fill="#000"/>
<text x="1682.5" y="767.8" font-family="Liberation Sans, sans-serif" font-size="9.9" fill="#000" text-anchor="start" textLength="15.5" lengthAdjust="spacingAndGlyphs" stroke="#000" stroke-width="0.22">100</text>
<text x="1681.0" y="796.9" font-family="Liberation Sans, sans-serif" font-size="9.9" fill="#000" text-anchor="start" textLength="10.5" lengthAdjust="spacingAndGlyphs" stroke="#000" stroke-width="0.22">80</text>
<text x="1681.0" y="847.9" font-family="Liberation Sans, sans-serif" font-size="9.9" fill="#000" text-anchor="start" textLength="10.5" lengthAdjust="spacingAndGlyphs" stroke="#000" stroke-width="0.22">50</text>
<text x="1681.0" y="909.2" font-family="Liberation Sans, sans-serif" font-size="9.9" fill="#000" text-anchor="start" textLength="10.5" lengthAdjust="spacingAndGlyphs" stroke="#000" stroke-width="0.22">15</text>
<rect x="1679" y="930" width="2" height="1" fill="#000"/>
<text x="1681.0" y="927.9" font-family="Liberation Sans, sans-serif" font-size="9.9" fill="#000" text-anchor="start" textLength="5.2" lengthAdjust="spacingAndGlyphs" stroke="#000" stroke-width="0.22">0</text>
<text x="3.4" y="944.3" font-family="Liberation Sans, sans-serif" font-size="9.9" fill="#000" text-anchor="start" textLength="40.1" lengthAdjust="spacingAndGlyphs" stroke="#000" stroke-width="0.22">Aug 2020</text>
<rect x="55" y="932" width="1" height="3" fill="#000"/>
<text x="54.0" y="944.3" font-family="Liberation Sans, sans-serif" font-size="9.9" fill="#000" text-anchor="start" textLength="47.9" lengthAdjust="spacingAndGlyphs" stroke="#000" stroke-width="0.22">6 Sep 2020</text>
<rect x="119" y="932" width="1" height="3" fill="#000"/>
<text x="118.0" y="944.3" font-family="Liberation Sans, sans-serif" font-size="9.9" fill="#000" text-anchor="start" textLength="53.1" lengthAdjust="spacingAndGlyphs" stroke="#000" stroke-width="0.22">15 Sep 2020</text>
<rect x="183" y="932" width="1" height="3" fill="#000"/>
<text x="182.0" y="944.3" font-family="Liberation Sans, sans-serif" font-size="9.9" fill="#000" text-anchor="start" textLength="53.1" lengthAdjust="spacingAndGlyphs" stroke="#000" stroke-width="0.22">24 Sep 2020</text>
<rect x="247" y="932" width="1" height="3" fill="#000"/>
<text x="246.0" y="944.3" font-family="Liberation Sans, sans-serif" font-size="9.9" fill="#000" text-anchor="start" textLength="45.8" lengthAdjust="spacingAndGlyphs" stroke="#000" stroke-width="0.22">4 Oct 2020</text>
<rect x="311" y="932" width="1" height="3" fill="#000"/>
<text x="310.0" y="944.3" font-family="Liberation Sans, sans-serif" font-size="9.9" fill="#000" text-anchor="start" textLength="51.0" lengthAdjust="spacingAndGlyphs" stroke="#000" stroke-width="0.22">13 Oct 2020</text>
<rect x="375" y="932" width="1" height="3" fill="#000"/>
<text x="374.0" y="944.3" font-family="Liberation Sans, sans-serif" font-size="9.9" fill="#000" text-anchor="start" textLength="51.0" lengthAdjust="spacingAndGlyphs" stroke="#000" stroke-width="0.22">22 Oct 2020</text>
<rect x="439" y="932" width="1" height="3" fill="#000"/>
<text x="438.0" y="944.3" font-family="Liberation Sans, sans-serif" font-size="9.9" fill="#000" text-anchor="start" textLength="47.9" lengthAdjust="spacingAndGlyphs" stroke="#000" stroke-width="0.22">1 Nov 2020</text>
<rect x="503" y="932" width="1" height="3" fill="#000"/>
<text x="502.0" y="944.3" font-family="Liberation Sans, sans-serif" font-size="9.9" fill="#000" text-anchor="start" textLength="53.1" lengthAdjust="spacingAndGlyphs" stroke="#000" stroke-width="0.22">10 Nov 2020</text>
<rect x="567" y="932" width="1" height="3" fill="#000"/>
<text x="566.0" y="944.3" font-family="Liberation Sans, sans-serif" font-size="9.9" fill="#000" text-anchor="start" textLength="53.1" lengthAdjust="spacingAndGlyphs" stroke="#000" stroke-width="0.22">19 Nov 2020</text>
<rect x="631" y="932" width="1" height="3" fill="#000"/>
<text x="630.0" y="944.3" font-family="Liberation Sans, sans-serif" font-size="9.9" fill="#000" text-anchor="start" textLength="53.1" lengthAdjust="spacingAndGlyphs" stroke="#000" stroke-width="0.22">29 Nov 2020</text>
<rect x="695" y="932" width="1" height="3" fill="#000"/>
<text x="694.0" y="944.3" font-family="Liberation Sans, sans-serif" font-size="9.9" fill="#000" text-anchor="start" textLength="47.9" lengthAdjust="spacingAndGlyphs" stroke="#000" stroke-width="0.22">8 Dec 2020</text>
<rect x="759" y="932" width="1" height="3" fill="#000"/>
<text x="758.0" y="944.3" font-family="Liberation Sans, sans-serif" font-size="9.9" fill="#000" text-anchor="start" textLength="53.1" lengthAdjust="spacingAndGlyphs" stroke="#000" stroke-width="0.22">17 Dec 2020</text>
<rect x="823" y="932" width="1" height="3" fill="#000"/>
<text x="822.0" y="944.3" font-family="Liberation Sans, sans-serif" font-size="9.9" fill="#000" text-anchor="start" textLength="53.1" lengthAdjust="spacingAndGlyphs" stroke="#000" stroke-width="0.22">28 Dec 2020</text>
<rect x="887" y="932" width="1" height="3" fill="#000"/>
<text x="886.0" y="944.3" font-family="Liberation Sans, sans-serif" font-size="9.9" fill="#000" text-anchor="start" textLength="46.3" lengthAdjust="spacingAndGlyphs" stroke="#000" stroke-width="0.22">7 Jan 2021</text>
<rect x="951" y="932" width="1" height="3" fill="#000"/>
<text x="950.0" y="944.3" font-family="Liberation Sans, sans-serif" font-size="9.9" fill="#000" text-anchor="start" textLength="51.5" lengthAdjust="spacingAndGlyphs" stroke="#000" stroke-width="0.22">17 Jan 2021</text>
<rect x="1015" y="932" width="1" height="3" fill="#000"/>
<text x="1014.0" y="944.3" font-family="Liberation Sans, sans-serif" font-size="9.9" fill="#000" text-anchor="start" textLength="51.5" lengthAdjust="spacingAndGlyphs" stroke="#000" stroke-width="0.22">26 Jan 2021</text>
<rect x="1079" y="932" width="1" height="3" fill="#000"/>
<text x="1078.0" y="944.3" font-family="Liberation Sans, sans-serif" font-size="9.9" fill="#000" text-anchor="start" textLength="47.3" lengthAdjust="spacingAndGlyphs" stroke="#000" stroke-width="0.22">4 Feb 2021</text>
<rect x="1143" y="932" width="1" height="3" fill="#000"/>
<text x="1142.0" y="944.3" font-family="Liberation Sans, sans-serif" font-size="9.9" fill="#000" text-anchor="start" textLength="52.6" lengthAdjust="spacingAndGlyphs" stroke="#000" stroke-width="0.22">14 Feb 2021</text>
<rect x="1207" y="932" width="1" height="3" fill="#000"/>
<text x="1206.0" y="944.3" font-family="Liberation Sans, sans-serif" font-size="9.9" fill="#000" text-anchor="start" textLength="52.6" lengthAdjust="spacingAndGlyphs" stroke="#000" stroke-width="0.22">23 Feb 2021</text>
<rect x="1271" y="932" width="1" height="3" fill="#000"/>
<text x="1270.0" y="944.3" font-family="Liberation Sans, sans-serif" font-size="9.9" fill="#000" text-anchor="start" textLength="47.3" lengthAdjust="spacingAndGlyphs" stroke="#000" stroke-width="0.22">4 Mar 2021</text>
<rect x="1335" y="932" width="1" height="3" fill="#000"/>
<text x="1334.0" y="944.3" font-family="Liberation Sans, sans-serif" font-size="9.9" fill="#000" text-anchor="start" textLength="52.5" lengthAdjust="spacingAndGlyphs" stroke="#000" stroke-width="0.22">14 Mar 2021</text>
<rect x="1399" y="932" width="1" height="3" fill="#000"/>
<text x="1398.0" y="944.3" font-family="Liberation Sans, sans-serif" font-size="9.9" fill="#000" text-anchor="start" textLength="52.5" lengthAdjust="spacingAndGlyphs" stroke="#000" stroke-width="0.22">23 Mar 2021</text>
<text x="6.4" y="41.8" font-family="Liberation Sans, sans-serif" font-size="9.9" fill="#000" text-anchor="start" textLength="63.4" lengthAdjust="spacingAndGlyphs" stroke="#000" stroke-width="0.22">USDJPY-,Daily</text>
<text x="76.5" y="41.8" font-family="Liberation Sans, sans-serif" font-size="9.9" fill="#000" text-anchor="start" textLength="139.9" lengthAdjust="spacingAndGlyphs" stroke="#000" stroke-width="0.22">108.520 108.949 108.445 108.725</text>
<rect x="0" y="40" width="2" height="1" fill="#333"/>
<text x="-5.2" y="597.6" font-family="Liberation Sans, sans-serif" font-size="9.9" fill="#000" text-anchor="start" textLength="127.8" lengthAdjust="spacingAndGlyphs" stroke="#000" stroke-width="0.22">MACD(12,26,9) 0.6614 0.8562</text>
<text x="-5.6" y="769.6" font-family="Liberation Sans, sans-serif" font-size="9.9" fill="#000" text-anchor="start" textLength="68.1" lengthAdjust="spacingAndGlyphs" stroke="#000" stroke-width="0.22">RSI(14) 64.8904</text>
<path d="M0 50H46V74H105V74H161V50H213V114H0z" fill="#b00000"/>
<rect x="213" y="50" width="2" height="65" fill="#ffffff"/>
<rect x="0" y="51" width="45" height="24" fill="url(#gTab)"/>
<rect x="162" y="51" width="50" height="24" fill="url(#gTab)"/>
<rect x="0" y="73" width="42" height="1" fill="#8a0000"/>
<rect x="0" y="74" width="42" height="1" fill="#f07070"/>
<rect x="165" y="73" width="43" height="1" fill="#8a0000"/>
<rect x="165" y="74" width="43" height="1" fill="#f07070"/>
<rect x="0" y="75" width="102" height="38" fill="url(#gRed)"/>
<rect x="106" y="75" width="106" height="38" fill="url(#gRed)"/>
<rect x="103" y="74" width="2" height="41" fill="#ffffff"/>
<rect x="46" y="50" width="115" height="24" fill="#ffffff"/>
<rect x="48" y="50" width="111" height="22" fill="#a4a8b0"/>
<rect x="49" y="51" width="109" height="20" fill="#ffffff"/>
<rect x="50" y="52" width="19" height="18" fill="url(#gBtn)"/>
<rect x="69" y="51" width="1" height="20" fill="#a4a8b0"/>
<rect x="137" y="51" width="1" height="20" fill="#a4a8b0"/>
<rect x="139" y="52" width="19" height="18" fill="url(#gBtn)"/>
<path d="M56 59.3h5.2l-2.6 2.6z" fill="#4a5cc8"/>
<path d="M144.9 62.3h5.2l-2.6-2.6z" fill="#4a5cc8"/>
<text x="133.5" y="65.6" font-family="Liberation Sans, sans-serif" font-size="13.0" fill="#000" text-anchor="end" textLength="24.0" lengthAdjust="spacingAndGlyphs">1.00</text>
<text x="6.0" y="66.0" font-family="Liberation Sans, sans-serif" font-size="12.5" fill="#fff" text-anchor="start" textLength="26.0" lengthAdjust="spacingAndGlyphs">SELL</text>
<text x="174.5" y="66.0" font-family="Liberation Sans, sans-serif" font-size="12.5" fill="#fff" text-anchor="start" textLength="23.2" lengthAdjust="spacingAndGlyphs">BUY</text>
<text x="17.0" y="104.7" font-family="Liberation Sans, sans-serif" font-size="12.5" fill="#fff" text-anchor="start" textLength="21.0" lengthAdjust="spacingAndGlyphs" font-weight="bold">108</text>
<text x="40.8" y="104.7" font-family="DejaVu Sans, sans-serif" font-size="33.0" fill="#fff" text-anchor="start" textLength="37.0" lengthAdjust="spacingAndGlyphs" font-weight="200" stroke="#fff" stroke-width="0.75">72</text>
<text x="81.3" y="89.0" font-family="Liberation Sans, sans-serif" font-size="12.5" fill="#fff" text-anchor="start" textLength="6.7" lengthAdjust="spacingAndGlyphs" font-weight="bold">5</text>
<text x="127.3" y="104.7" font-family="Liberation Sans, sans-serif" font-size="12.5" fill="#fff" text-anchor="start" textLength="21.0" lengthAdjust="spacingAndGlyphs" font-weight="bold">108</text>
<text x="151.8" y="104.7" font-family="DejaVu Sans, sans-serif" font-size="33.0" fill="#fff" text-anchor="start" textLength="37.0" lengthAdjust="spacingAndGlyphs" font-weight="200" stroke="#fff" stroke-width="0.75">75</text>
<text x="192.3" y="89.0" font-family="Liberation Sans, sans-serif" font-size="12.5" fill="#fff" text-anchor="start" textLength="6.0" lengthAdjust="spacingAndGlyphs" font-weight="bold">1</text>
</svg>

</body></html>
